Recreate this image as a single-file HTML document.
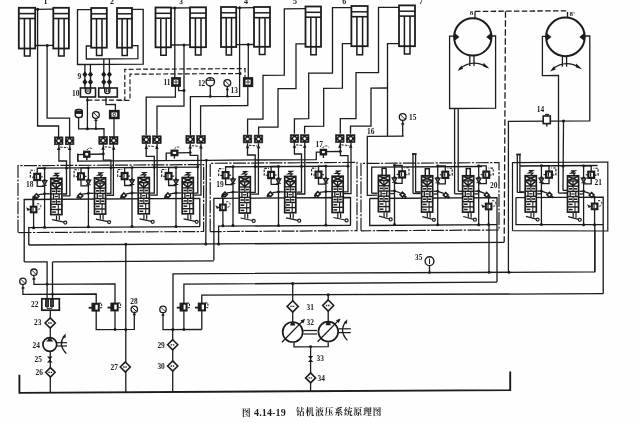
<!DOCTYPE html>
<html><head><meta charset="utf-8"><title>钻机液压系统原理图</title>
<style>
html,body{margin:0;padding:0;background:#fff;}
body{width:640px;height:423px;overflow:hidden;}
svg{display:block;}
</style></head><body>
<svg width="640" height="423" viewBox="0 0 640 423">
<defs><filter id="soft" x="-2%" y="-2%" width="104%" height="104%"><feGaussianBlur stdDeviation="0.45"/></filter></defs>
<rect x="0" y="0" width="640" height="423" fill="#fefefe"/>
<g fill="none" stroke="#1c1c1c" stroke-linecap="butt" stroke-linejoin="miter" filter="url(#soft)">
<rect x="18.8" y="7.8" width="16.4" height="40.7" stroke-width="1.80" fill="none" rx="0.0"/>
<path d="M18.8,13.6 L35.2,13.6" stroke-width="1.50"/>
<path d="M18.8,18.5 L35.2,18.5" stroke-width="1.60"/>
<path d="M24.4,18.5 L24.4,56.0 L30.1,56.0 L30.1,18.5" stroke-width="1.50"/>
<rect x="53.3" y="7.8" width="15.6" height="40.7" stroke-width="1.80" fill="none" rx="0.0"/>
<path d="M53.3,13.6 L68.9,13.6" stroke-width="1.50"/>
<path d="M53.3,18.5 L68.9,18.5" stroke-width="1.60"/>
<path d="M58.6,18.5 L58.6,56.0 L64.1,56.0 L64.1,18.5" stroke-width="1.50"/>
<rect x="91.2" y="8.0" width="15.6" height="39.7" stroke-width="1.80" fill="none" rx="0.0"/>
<path d="M91.2,13.8 L106.8,13.8" stroke-width="1.50"/>
<path d="M91.2,18.7 L106.8,18.7" stroke-width="1.60"/>
<path d="M96.5,18.7 L96.5,55.5 L102.0,55.5 L102.0,18.7" stroke-width="1.50"/>
<rect x="117.0" y="8.0" width="15.0" height="39.7" stroke-width="1.80" fill="none" rx="0.0"/>
<path d="M117.0,13.8 L132.0,13.8" stroke-width="1.50"/>
<path d="M117.0,18.7 L132.0,18.7" stroke-width="1.60"/>
<path d="M122.1,18.7 L122.1,55.5 L127.3,55.5 L127.3,18.7" stroke-width="1.50"/>
<rect x="155.5" y="7.5" width="15.5" height="39.8" stroke-width="1.80" fill="none" rx="0.0"/>
<path d="M155.5,13.3 L171.0,13.3" stroke-width="1.50"/>
<path d="M155.5,18.2 L171.0,18.2" stroke-width="1.60"/>
<path d="M160.8,18.2 L160.8,55.2 L166.2,55.2 L166.2,18.2" stroke-width="1.50"/>
<rect x="190.0" y="7.3" width="16.0" height="39.9" stroke-width="1.80" fill="none" rx="0.0"/>
<path d="M190.0,13.1 L206.0,13.1" stroke-width="1.50"/>
<path d="M190.0,18.0 L206.0,18.0" stroke-width="1.60"/>
<path d="M195.4,18.0 L195.4,55.0 L201.0,55.0 L201.0,18.0" stroke-width="1.50"/>
<rect x="221.0" y="7.0" width="15.2" height="40.0" stroke-width="1.80" fill="none" rx="0.0"/>
<path d="M221.0,12.8 L236.2,12.8" stroke-width="1.50"/>
<path d="M221.0,17.7 L236.2,17.7" stroke-width="1.60"/>
<path d="M226.2,17.7 L226.2,55.0 L231.5,55.0 L231.5,17.7" stroke-width="1.50"/>
<rect x="254.0" y="7.0" width="16.0" height="39.8" stroke-width="1.80" fill="none" rx="0.0"/>
<path d="M254.0,12.8 L270.0,12.8" stroke-width="1.50"/>
<path d="M254.0,17.7 L270.0,17.7" stroke-width="1.60"/>
<path d="M259.4,17.7 L259.4,54.6 L265.0,54.6 L265.0,17.7" stroke-width="1.50"/>
<rect x="305.5" y="6.5" width="15.5" height="40.3" stroke-width="1.80" fill="none" rx="0.0"/>
<path d="M305.5,12.3 L321.0,12.3" stroke-width="1.50"/>
<path d="M305.5,17.2 L321.0,17.2" stroke-width="1.60"/>
<path d="M310.8,17.2 L310.8,54.8 L316.2,54.8 L316.2,17.2" stroke-width="1.50"/>
<rect x="351.4" y="6.0" width="16.3" height="40.2" stroke-width="1.80" fill="none" rx="0.0"/>
<path d="M351.4,11.8 L367.7,11.8" stroke-width="1.50"/>
<path d="M351.4,16.7 L367.7,16.7" stroke-width="1.60"/>
<path d="M356.9,16.7 L356.9,54.7 L362.6,54.7 L362.6,16.7" stroke-width="1.50"/>
<rect x="399.0" y="5.4" width="16.0" height="40.8" stroke-width="1.80" fill="none" rx="0.0"/>
<path d="M399.0,11.2 L415.0,11.2" stroke-width="1.50"/>
<path d="M399.0,16.1 L415.0,16.1" stroke-width="1.60"/>
<path d="M404.4,16.1 L404.4,54.0 L410.0,54.0 L410.0,16.1" stroke-width="1.50"/>
<text x="45.5" y="4.2" font-size="8.0" text-anchor="middle" font-weight="bold" font-family="&quot;Liberation Serif&quot;, serif" stroke="none" fill="#1c1c1c">1</text>
<text x="112.0" y="4.2" font-size="8.0" text-anchor="middle" font-weight="bold" font-family="&quot;Liberation Serif&quot;, serif" stroke="none" fill="#1c1c1c">2</text>
<text x="181.0" y="4.2" font-size="8.0" text-anchor="middle" font-weight="bold" font-family="&quot;Liberation Serif&quot;, serif" stroke="none" fill="#1c1c1c">3</text>
<text x="246.0" y="4.2" font-size="8.0" text-anchor="middle" font-weight="bold" font-family="&quot;Liberation Serif&quot;, serif" stroke="none" fill="#1c1c1c">4</text>
<text x="295.0" y="4.2" font-size="8.0" text-anchor="middle" font-weight="bold" font-family="&quot;Liberation Serif&quot;, serif" stroke="none" fill="#1c1c1c">5</text>
<text x="344.3" y="4.2" font-size="8.0" text-anchor="middle" font-weight="bold" font-family="&quot;Liberation Serif&quot;, serif" stroke="none" fill="#1c1c1c">6</text>
<text x="421.0" y="4.2" font-size="8.0" text-anchor="middle" font-weight="bold" font-family="&quot;Liberation Serif&quot;, serif" stroke="none" fill="#1c1c1c">7</text>
<text x="473.3" y="15.4" font-size="7.0" text-anchor="end" font-weight="bold" font-family="&quot;Liberation Serif&quot;, serif" stroke="none" fill="#1c1c1c">8</text>
<text x="569.6" y="15.6" font-size="7.0" text-anchor="start" font-weight="bold" font-family="&quot;Liberation Serif&quot;, serif" stroke="none" fill="#1c1c1c">8'</text>
<path d="M35.2,9.3 L53.3,9.2" stroke-width="1.30"/>
<path d="M35.2,45.5 L53.3,45.4" stroke-width="1.30"/>
<circle cx="37.7" cy="9.3" r="1.5" fill="#1c1c1c" stroke="none"/>
<circle cx="47.2" cy="45.4" r="1.5" fill="#1c1c1c" stroke="none"/>
<path d="M37.6,9.3 L37.6,126.0 L58.6,125.9 L58.6,137.0" stroke-width="1.30"/>
<path d="M47.1,45.4 L47.1,118.2 L69.6,118.1 L69.6,137.0" stroke-width="1.30"/>
<path d="M91.2,9.6 L77.5,9.7 L77.5,64.5 L143.2,64.1 L143.2,9.3 L132.0,9.4" stroke-width="1.30"/>
<path d="M91.2,46.0 L86.3,46.0 L86.3,59.0 L137.9,58.7 L137.9,45.7 L132.0,45.7" stroke-width="1.30"/>
<path d="M84.9,64.5 L84.9,73.0" stroke-width="1.30"/>
<path d="M90.4,64.4 L90.4,73.0" stroke-width="1.30"/>
<path d="M103.8,58.9 L103.8,73.0" stroke-width="1.30"/>
<path d="M109.4,58.9 L109.4,73.0" stroke-width="1.30"/>
<polygon points="84.9,71.3 87.5,74.6 84.9,77.6 82.3,74.6" fill="#1c1c1c" stroke-width="0.0"/>
<polygon points="84.9,78.8 87.5,82.0 84.9,85.2 82.3,82.0" fill="#1c1c1c" stroke-width="0.0"/>
<path d="M84.9,73.0 L84.9,88.3" stroke-width="1.30"/>
<polygon points="90.5,71.3 93.1,74.6 90.5,77.6 87.9,74.6" fill="#1c1c1c" stroke-width="0.0"/>
<polygon points="90.5,78.8 93.1,82.0 90.5,85.2 87.9,82.0" fill="#1c1c1c" stroke-width="0.0"/>
<path d="M90.5,73.0 L90.5,88.3" stroke-width="1.30"/>
<polygon points="103.8,71.3 106.4,74.6 103.8,77.6 101.2,74.6" fill="#1c1c1c" stroke-width="0.0"/>
<polygon points="103.8,78.8 106.4,82.0 103.8,85.2 101.2,82.0" fill="#1c1c1c" stroke-width="0.0"/>
<path d="M103.8,73.0 L103.8,88.3" stroke-width="1.30"/>
<polygon points="109.4,71.3 112.0,74.6 109.4,77.6 106.8,74.6" fill="#1c1c1c" stroke-width="0.0"/>
<polygon points="109.4,78.8 112.0,82.0 109.4,85.2 106.8,82.0" fill="#1c1c1c" stroke-width="0.0"/>
<path d="M109.4,73.0 L109.4,88.3" stroke-width="1.30"/>
<text x="81.3" y="78.5" font-size="7.4" text-anchor="end" font-weight="bold" font-family="&quot;Liberation Serif&quot;, serif" stroke="none" fill="#1c1c1c">9</text>
<text x="79.5" y="95.5" font-size="7.4" text-anchor="end" font-weight="bold" font-family="&quot;Liberation Serif&quot;, serif" stroke="none" fill="#1c1c1c">10</text>
<rect x="80.4" y="88.0" width="15.1" height="9.0" stroke-width="1.60" fill="none" rx="0.0"/>
<rect x="98.7" y="88.0" width="18.6" height="9.0" stroke-width="1.60" fill="none" rx="0.0"/>
<path d="M85.4,88 v3 a2.6,2.6 0 0 0 5.2,0 v-3" stroke-width="1.4" fill="none"/>
<path d="M87.0,88.0 L87.0,92.0" stroke-width="1.00"/>
<path d="M89.0,88.0 L89.0,92.0" stroke-width="1.00"/>
<path d="M104.7,88 v3 a2.6,2.6 0 0 0 5.2,0 v-3" stroke-width="1.4" fill="none"/>
<path d="M106.3,88.0 L106.3,92.0" stroke-width="1.00"/>
<path d="M108.3,88.0 L108.3,92.0" stroke-width="1.00"/>
<path d="M87.4,100.2 L124.8,100.0 L124.8,69.3 L245.0,68.6 L245.0,78.0" stroke-width="1.20" stroke-dasharray="5,2.2"/>
<path d="M117.3,100.4 L130.0,100.3 L130.0,74.2 L240.0,73.5" stroke-width="1.20" stroke-dasharray="5,2.2"/>
<circle cx="240.0" cy="73.6" r="1.5" fill="#1c1c1c" stroke="none"/>
<path d="M87.4,97.0 L87.4,128.8" stroke-width="1.30"/>
<circle cx="87.4" cy="100.2" r="1.3" fill="#1c1c1c" stroke="none"/>
<circle cx="87.4" cy="128.8" r="1.5" fill="#1c1c1c" stroke="none"/>
<path d="M106.0,97.0 L106.0,104.6 L115.4,104.5 L115.4,110.8" stroke-width="1.30"/>
<rect x="110.2" y="111.2" width="8.2" height="6.7" stroke-width="2.60" fill="none" rx="0.0"/>
<circle cx="114.3" cy="114.5" r="1.3" stroke-width="0.90" fill="none"/>
<path d="M114.0,118.3 L114.0,137.0" stroke-width="1.30"/>
<rect x="75.3" y="109.4" width="7.0" height="8.0" stroke-width="1.50" fill="none" rx="2.5"/>
<rect x="75.3" y="111.0" width="7.0" height="2.6" stroke-width="0.80" fill="#1c1c1c" rx="0.0"/>
<path d="M78.6,117.4 L78.6,128.9 L104.0,128.7 L104.0,137.0" stroke-width="1.30"/>
<circle cx="95.9" cy="115.0" r="3.4" stroke-width="1.30" fill="none"/>
<path d="M93.9,113.0 L97.9,117.0" stroke-width="1.00"/>
<path d="M95.9,118.4 L95.9,128.8" stroke-width="1.30"/>
<path d="M94.4,120.4 L97.4,120.4" stroke-width="1.30"/>
<circle cx="95.9" cy="128.8" r="1.3" fill="#1c1c1c" stroke="none"/>
<path d="M171.0,8.0 L190.0,7.9" stroke-width="1.30"/>
<path d="M171.0,45.0 L190.0,44.9" stroke-width="1.30"/>
<circle cx="174.8" cy="8.0" r="1.5" fill="#1c1c1c" stroke="none"/>
<circle cx="184.0" cy="44.9" r="1.5" fill="#1c1c1c" stroke="none"/>
<path d="M174.8,8.0 L174.8,78.0" stroke-width="1.30"/>
<path d="M175.4,86.0 L175.4,97.0 L146.2,97.2 L146.2,135.3" stroke-width="1.30"/>
<path d="M184.0,44.9 L184.0,106.0 L157.0,106.2 L157.0,135.3" stroke-width="1.30"/>
<rect x="172.4" y="78.4" width="7.2" height="7.1" stroke-width="2.60" fill="none" rx="0.0"/>
<circle cx="176.0" cy="82.0" r="1.2" stroke-width="0.90" fill="none"/>
<path d="M178.6,86.0 L178.6,90.7 L184.0,90.7" stroke-width="1.30"/>
<circle cx="184.0" cy="90.6" r="1.5" fill="#1c1c1c" stroke="none"/>
<text x="170.5" y="85.0" font-size="7.4" text-anchor="end" font-weight="bold" font-family="&quot;Liberation Serif&quot;, serif" stroke="none" fill="#1c1c1c">11</text>
<path d="M236.2,7.8 L254.0,7.7" stroke-width="1.30"/>
<path d="M236.2,44.6 L254.0,44.5" stroke-width="1.30"/>
<circle cx="239.6" cy="7.8" r="1.5" fill="#1c1c1c" stroke="none"/>
<circle cx="248.3" cy="44.5" r="1.5" fill="#1c1c1c" stroke="none"/>
<path d="M239.6,7.8 L239.6,96.3 L190.4,96.6 L190.4,135.0" stroke-width="1.30"/>
<path d="M248.3,44.5 L248.3,78.0" stroke-width="1.30"/>
<rect x="244.2" y="78.4" width="7.7" height="7.4" stroke-width="2.60" fill="none" rx="0.0"/>
<circle cx="248.0" cy="82.0" r="1.2" stroke-width="0.90" fill="none"/>
<path d="M247.8,86.2 L247.8,105.5 L200.6,105.8 L200.6,135.0" stroke-width="1.30"/>
<circle cx="210.3" cy="81.8" r="4.2" stroke-width="1.40" fill="none"/>
<path d="M206.1,80.3 L214.5,80.3" stroke-width="1.00"/>
<polygon points="209.0,79.8 211.6,79.8 210.3,77.6" fill="#1c1c1c" stroke-width="0.0"/>
<path d="M210.3,86.0 L210.3,96.5" stroke-width="1.30"/>
<circle cx="210.3" cy="96.4" r="1.3" fill="#1c1c1c" stroke="none"/>
<circle cx="227.3" cy="83.0" r="3.4" stroke-width="1.30" fill="none"/>
<path d="M225.3,81.0 L229.3,85.0" stroke-width="1.00"/>
<path d="M227.3,86.4 L227.3,96.3" stroke-width="1.30"/>
<circle cx="227.3" cy="96.3" r="1.3" fill="#1c1c1c" stroke="none"/>
<path d="M226.0,89.5 L228.6,89.5" stroke-width="1.60"/>
<text x="205.3" y="86.0" font-size="7.4" text-anchor="end" font-weight="bold" font-family="&quot;Liberation Serif&quot;, serif" stroke="none" fill="#1c1c1c">12</text>
<text x="230.5" y="92.5" font-size="7.4" text-anchor="start" font-weight="bold" font-family="&quot;Liberation Serif&quot;, serif" stroke="none" fill="#1c1c1c">13</text>
<path d="M306.0,8.7 L284.3,8.8 L284.3,75.2 L263.0,75.3 L263.0,119.0 L247.6,119.1 L247.6,134.7" stroke-width="1.30"/>
<path d="M306.0,43.8 L296.0,43.9 L296.0,88.6 L278.0,88.7 L278.0,127.0 L258.6,127.1 L258.6,134.7" stroke-width="1.30"/>
<path d="M351.3,7.6 L332.5,7.7 L332.5,73.0 L308.7,73.1 L308.7,118.7 L294.4,118.8 L294.4,133.8" stroke-width="1.30"/>
<path d="M351.3,43.6 L342.4,43.7 L342.4,88.2 L323.7,88.3 L323.7,126.2 L304.6,126.3 L304.6,133.8" stroke-width="1.30"/>
<path d="M399.0,7.3 L378.5,7.4 L378.5,72.6 L356.0,72.7 L356.0,118.5 L340.3,118.6 L340.3,133.7" stroke-width="1.30"/>
<path d="M399.0,43.6 L387.5,43.7 L387.5,136.2" stroke-width="1.30"/>
<path d="M387.5,88.0 L371.0,88.1 L371.0,126.0 L350.5,126.1 L350.5,133.7" stroke-width="1.30"/>
<path d="M403.7,136.1 L367.3,136.3 L367.3,195.3 L377.0,195.2" stroke-width="1.30"/>
<circle cx="402.7" cy="117.0" r="3.4" stroke-width="1.30" fill="none"/>
<path d="M400.7,115.0 L404.7,119.0" stroke-width="1.00"/>
<path d="M402.7,120.4 L402.7,136.1" stroke-width="1.30"/>
<path d="M401.3,124.0 L404.1,124.0" stroke-width="1.60"/>
<text x="409.0" y="120.0" font-size="7.4" text-anchor="start" font-weight="bold" font-family="&quot;Liberation Serif&quot;, serif" stroke="none" fill="#1c1c1c">15</text>
<text x="367.0" y="133.5" font-size="7.4" text-anchor="start" font-weight="bold" font-family="&quot;Liberation Serif&quot;, serif" stroke="none" fill="#1c1c1c">16</text>
<text x="315.5" y="147.0" font-size="7.4" text-anchor="start" font-weight="bold" font-family="&quot;Liberation Serif&quot;, serif" stroke="none" fill="#1c1c1c">17</text>
<rect x="54.4" y="136.9" width="8.6" height="7.8" fill="#1c1c1c" stroke-width="0.6"/>
<circle cx="58.7" cy="140.8" r="1.35" fill="#fff" stroke="none"/>
<circle cx="56.4" cy="138.7" r="0.75" fill="#aaa" stroke="none"/>
<circle cx="56.4" cy="142.9" r="0.75" fill="#aaa" stroke="none"/>
<circle cx="61.0" cy="138.7" r="0.75" fill="#aaa" stroke="none"/>
<circle cx="61.0" cy="142.9" r="0.75" fill="#aaa" stroke="none"/>
<polygon points="56.9,150.0 60.5,150.0 58.7,146.4" fill="#1c1c1c" stroke-width="0.0"/>
<rect x="65.3" y="136.9" width="8.6" height="7.8" fill="#1c1c1c" stroke-width="0.6"/>
<circle cx="69.6" cy="140.8" r="1.35" fill="#fff" stroke="none"/>
<circle cx="67.3" cy="138.7" r="0.75" fill="#aaa" stroke="none"/>
<circle cx="67.3" cy="142.9" r="0.75" fill="#aaa" stroke="none"/>
<circle cx="71.9" cy="138.7" r="0.75" fill="#aaa" stroke="none"/>
<circle cx="71.9" cy="142.9" r="0.75" fill="#aaa" stroke="none"/>
<polygon points="67.8,150.0 71.4,150.0 69.6,146.4" fill="#1c1c1c" stroke-width="0.0"/>
<path d="M60.2,147.1 L68.1,147.7" stroke-width="1.00" stroke-dasharray="2.4,1.2"/>
<rect x="98.8" y="136.6" width="8.6" height="7.8" fill="#1c1c1c" stroke-width="0.6"/>
<circle cx="103.1" cy="140.5" r="1.35" fill="#fff" stroke="none"/>
<circle cx="100.8" cy="138.4" r="0.75" fill="#aaa" stroke="none"/>
<circle cx="100.8" cy="142.6" r="0.75" fill="#aaa" stroke="none"/>
<circle cx="105.4" cy="138.4" r="0.75" fill="#aaa" stroke="none"/>
<circle cx="105.4" cy="142.6" r="0.75" fill="#aaa" stroke="none"/>
<polygon points="101.3,149.7 104.9,149.7 103.1,146.1" fill="#1c1c1c" stroke-width="0.0"/>
<rect x="109.4" y="136.6" width="8.6" height="7.8" fill="#1c1c1c" stroke-width="0.6"/>
<circle cx="113.7" cy="140.5" r="1.35" fill="#fff" stroke="none"/>
<circle cx="111.4" cy="138.4" r="0.75" fill="#aaa" stroke="none"/>
<circle cx="111.4" cy="142.6" r="0.75" fill="#aaa" stroke="none"/>
<circle cx="116.0" cy="138.4" r="0.75" fill="#aaa" stroke="none"/>
<circle cx="116.0" cy="142.6" r="0.75" fill="#aaa" stroke="none"/>
<polygon points="111.9,149.7 115.5,149.7 113.7,146.1" fill="#1c1c1c" stroke-width="0.0"/>
<path d="M104.6,146.8 L112.2,147.4" stroke-width="1.00" stroke-dasharray="2.4,1.2"/>
<rect x="142.0" y="135.8" width="8.6" height="7.8" fill="#1c1c1c" stroke-width="0.6"/>
<circle cx="146.3" cy="139.7" r="1.35" fill="#fff" stroke="none"/>
<circle cx="144.0" cy="137.6" r="0.75" fill="#aaa" stroke="none"/>
<circle cx="144.0" cy="141.8" r="0.75" fill="#aaa" stroke="none"/>
<circle cx="148.6" cy="137.6" r="0.75" fill="#aaa" stroke="none"/>
<circle cx="148.6" cy="141.8" r="0.75" fill="#aaa" stroke="none"/>
<polygon points="144.5,148.9 148.1,148.9 146.3,145.3" fill="#1c1c1c" stroke-width="0.0"/>
<rect x="152.6" y="135.8" width="8.6" height="7.8" fill="#1c1c1c" stroke-width="0.6"/>
<circle cx="156.9" cy="139.7" r="1.35" fill="#fff" stroke="none"/>
<circle cx="154.6" cy="137.6" r="0.75" fill="#aaa" stroke="none"/>
<circle cx="154.6" cy="141.8" r="0.75" fill="#aaa" stroke="none"/>
<circle cx="159.2" cy="137.6" r="0.75" fill="#aaa" stroke="none"/>
<circle cx="159.2" cy="141.8" r="0.75" fill="#aaa" stroke="none"/>
<polygon points="155.1,148.9 158.7,148.9 156.9,145.3" fill="#1c1c1c" stroke-width="0.0"/>
<path d="M147.8,146.0 L155.4,146.6" stroke-width="1.00" stroke-dasharray="2.4,1.2"/>
<rect x="185.9" y="135.5" width="8.6" height="7.8" fill="#1c1c1c" stroke-width="0.6"/>
<circle cx="190.2" cy="139.4" r="1.35" fill="#fff" stroke="none"/>
<circle cx="187.9" cy="137.3" r="0.75" fill="#aaa" stroke="none"/>
<circle cx="187.9" cy="141.5" r="0.75" fill="#aaa" stroke="none"/>
<circle cx="192.5" cy="137.3" r="0.75" fill="#aaa" stroke="none"/>
<circle cx="192.5" cy="141.5" r="0.75" fill="#aaa" stroke="none"/>
<polygon points="188.4,148.6 192.0,148.6 190.2,145.0" fill="#1c1c1c" stroke-width="0.0"/>
<rect x="196.7" y="135.5" width="8.6" height="7.8" fill="#1c1c1c" stroke-width="0.6"/>
<circle cx="201.0" cy="139.4" r="1.35" fill="#fff" stroke="none"/>
<circle cx="198.7" cy="137.3" r="0.75" fill="#aaa" stroke="none"/>
<circle cx="198.7" cy="141.5" r="0.75" fill="#aaa" stroke="none"/>
<circle cx="203.3" cy="137.3" r="0.75" fill="#aaa" stroke="none"/>
<circle cx="203.3" cy="141.5" r="0.75" fill="#aaa" stroke="none"/>
<polygon points="199.2,148.6 202.8,148.6 201.0,145.0" fill="#1c1c1c" stroke-width="0.0"/>
<path d="M191.7,145.7 L199.5,146.3" stroke-width="1.00" stroke-dasharray="2.4,1.2"/>
<rect x="243.2" y="135.1" width="8.6" height="7.8" fill="#1c1c1c" stroke-width="0.6"/>
<circle cx="247.5" cy="139.0" r="1.35" fill="#fff" stroke="none"/>
<circle cx="245.2" cy="136.9" r="0.75" fill="#aaa" stroke="none"/>
<circle cx="245.2" cy="141.1" r="0.75" fill="#aaa" stroke="none"/>
<circle cx="249.8" cy="136.9" r="0.75" fill="#aaa" stroke="none"/>
<circle cx="249.8" cy="141.1" r="0.75" fill="#aaa" stroke="none"/>
<polygon points="245.7,148.2 249.3,148.2 247.5,144.6" fill="#1c1c1c" stroke-width="0.0"/>
<rect x="254.2" y="135.1" width="8.6" height="7.8" fill="#1c1c1c" stroke-width="0.6"/>
<circle cx="258.5" cy="139.0" r="1.35" fill="#fff" stroke="none"/>
<circle cx="256.2" cy="136.9" r="0.75" fill="#aaa" stroke="none"/>
<circle cx="256.2" cy="141.1" r="0.75" fill="#aaa" stroke="none"/>
<circle cx="260.8" cy="136.9" r="0.75" fill="#aaa" stroke="none"/>
<circle cx="260.8" cy="141.1" r="0.75" fill="#aaa" stroke="none"/>
<polygon points="256.7,148.2 260.3,148.2 258.5,144.6" fill="#1c1c1c" stroke-width="0.0"/>
<path d="M249.0,145.3 L257.0,145.9" stroke-width="1.00" stroke-dasharray="2.4,1.2"/>
<rect x="290.2" y="134.7" width="8.6" height="7.8" fill="#1c1c1c" stroke-width="0.6"/>
<circle cx="294.5" cy="138.6" r="1.35" fill="#fff" stroke="none"/>
<circle cx="292.2" cy="136.5" r="0.75" fill="#aaa" stroke="none"/>
<circle cx="292.2" cy="140.7" r="0.75" fill="#aaa" stroke="none"/>
<circle cx="296.8" cy="136.5" r="0.75" fill="#aaa" stroke="none"/>
<circle cx="296.8" cy="140.7" r="0.75" fill="#aaa" stroke="none"/>
<polygon points="292.7,147.8 296.3,147.8 294.5,144.2" fill="#1c1c1c" stroke-width="0.0"/>
<rect x="300.4" y="134.7" width="8.6" height="7.8" fill="#1c1c1c" stroke-width="0.6"/>
<circle cx="304.7" cy="138.6" r="1.35" fill="#fff" stroke="none"/>
<circle cx="302.4" cy="136.5" r="0.75" fill="#aaa" stroke="none"/>
<circle cx="302.4" cy="140.7" r="0.75" fill="#aaa" stroke="none"/>
<circle cx="307.0" cy="136.5" r="0.75" fill="#aaa" stroke="none"/>
<circle cx="307.0" cy="140.7" r="0.75" fill="#aaa" stroke="none"/>
<polygon points="302.9,147.8 306.5,147.8 304.7,144.2" fill="#1c1c1c" stroke-width="0.0"/>
<path d="M296.0,144.9 L303.2,145.5" stroke-width="1.00" stroke-dasharray="2.4,1.2"/>
<rect x="335.5" y="134.7" width="8.6" height="7.8" fill="#1c1c1c" stroke-width="0.6"/>
<circle cx="339.8" cy="138.6" r="1.35" fill="#fff" stroke="none"/>
<circle cx="337.5" cy="136.5" r="0.75" fill="#aaa" stroke="none"/>
<circle cx="337.5" cy="140.7" r="0.75" fill="#aaa" stroke="none"/>
<circle cx="342.1" cy="136.5" r="0.75" fill="#aaa" stroke="none"/>
<circle cx="342.1" cy="140.7" r="0.75" fill="#aaa" stroke="none"/>
<polygon points="338.0,147.8 341.6,147.8 339.8,144.2" fill="#1c1c1c" stroke-width="0.0"/>
<rect x="346.4" y="134.7" width="8.6" height="7.8" fill="#1c1c1c" stroke-width="0.6"/>
<circle cx="350.7" cy="138.6" r="1.35" fill="#fff" stroke="none"/>
<circle cx="348.4" cy="136.5" r="0.75" fill="#aaa" stroke="none"/>
<circle cx="348.4" cy="140.7" r="0.75" fill="#aaa" stroke="none"/>
<circle cx="353.0" cy="136.5" r="0.75" fill="#aaa" stroke="none"/>
<circle cx="353.0" cy="140.7" r="0.75" fill="#aaa" stroke="none"/>
<polygon points="348.9,147.8 352.5,147.8 350.7,144.2" fill="#1c1c1c" stroke-width="0.0"/>
<path d="M341.3,144.9 L349.2,145.5" stroke-width="1.00" stroke-dasharray="2.4,1.2"/>
<circle cx="472.8" cy="36.9" r="18.7" stroke-width="2.00" fill="none"/>
<polygon points="454.4,32.7 454.4,41.1 459.4,36.9" fill="#1c1c1c" stroke-width="0.0"/>
<polygon points="491.2,32.7 491.2,41.1 486.2,36.9" fill="#1c1c1c" stroke-width="0.0"/>
<path d="M469.8,55.6 L469.8,66.1" stroke-width="1.30"/>
<path d="M474.0,55.6 L474.0,66.1" stroke-width="1.30"/>
<path d="M459.3,69.1 Q472.3,58.1 487.3,67.1" stroke-width="1.3" fill="none"/>
<polygon points="457.5,70.9 461.5,65.4 463.0,68.8" fill="#1c1c1c" stroke-width="0.0"/>
<polygon points="489.3,68.6 483.6,62.8 483.1,66.6" fill="#1c1c1c" stroke-width="0.0"/>
<circle cx="565.4" cy="36.9" r="19.3" stroke-width="2.00" fill="none"/>
<polygon points="546.4,32.7 546.4,41.1 551.4,36.9" fill="#1c1c1c" stroke-width="0.0"/>
<polygon points="584.4,32.7 584.4,41.1 579.4,36.9" fill="#1c1c1c" stroke-width="0.0"/>
<path d="M562.4,56.2 L562.4,66.7" stroke-width="1.30"/>
<path d="M566.6,56.2 L566.6,66.7" stroke-width="1.30"/>
<path d="M551.9,69.7 Q564.9,58.7 579.9,67.7" stroke-width="1.3" fill="none"/>
<polygon points="550.1,71.5 554.1,66.0 555.6,69.4" fill="#1c1c1c" stroke-width="0.0"/>
<polygon points="581.9,69.2 576.2,63.4 575.7,67.2" fill="#1c1c1c" stroke-width="0.0"/>
<path d="M454.2,36.2 L449.6,36.2 L449.6,108.5 L495.6,108.2 L495.6,36.0 L491.4,36.0" stroke-width="1.30"/>
<path d="M454.6,108.5 L454.6,193.8" stroke-width="1.30"/>
<path d="M458.2,108.5 L458.2,191.3" stroke-width="1.30"/>
<path d="M475.0,18.3 L475.0,11.4" stroke-width="1.30"/>
<path d="M475.0,11.4 L567.5,10.8 L567.5,17.8" stroke-width="1.30" stroke-dasharray="5.5,2.3"/>
<path d="M505.5,11.3 L504.2,242.3" stroke-width="1.30" stroke-dasharray="6.5,2.5"/>
<path d="M546.1,36.4 L542.4,36.4 L542.4,75.6 L558.5,75.5 L558.5,193.1" stroke-width="1.30"/>
<path d="M584.7,36.0 L589.8,36.0 L589.8,120.8 L508.4,121.3 L508.4,271.3" stroke-width="1.30"/>
<circle cx="563.5" cy="121.0" r="1.5" fill="#1c1c1c" stroke="none"/>
<path d="M563.5,121.0 L563.0,190.4" stroke-width="1.30"/>
<circle cx="563.1" cy="166.0" r="1.5" fill="#1c1c1c" stroke="none"/>
<rect x="543.2" y="116.0" width="7.1" height="7.6" stroke-width="1.60" fill="#fff" rx="0.0"/>
<path d="M545.0,114.5 L549.0,114.5" stroke-width="1.20"/>
<path d="M546.8,123.6 L546.8,126.5" stroke-width="1.40"/>
<text x="540.5" y="111.8" font-size="7.4" text-anchor="middle" font-weight="bold" font-family="&quot;Liberation Serif&quot;, serif" stroke="none" fill="#1c1c1c">14</text>
<path d="M18.0,232.5 L18.0,165.7 L203.6,164.6 L203.6,231.5 L18.0,232.6" stroke-width="1.20" stroke-dasharray="13,1.5,2.2,1.5"/>
<path d="M37.4,168.2 L197.8,167.2" stroke-width="1.30"/>
<path d="M24.2,261.9 L24.2,199.5 L199.8,198.4 L199.8,226.5" stroke-width="1.30"/>
<path d="M200.0,226.6 L28.8,227.6 L28.8,245.0" stroke-width="1.30"/>
<path d="M77.8,153.6 L77.8,161.2 L206.4,160.4" stroke-width="1.30"/>
<path d="M44.6,168.4 L44.6,227.3" stroke-width="1.30"/>
<circle cx="44.6" cy="168.4" r="1.4" fill="#1c1c1c" stroke="none"/>
<circle cx="44.6" cy="227.3" r="1.5" fill="#1c1c1c" stroke="none"/>
<circle cx="44.6" cy="193.8" r="1.4" fill="#1c1c1c" stroke="none"/>
<path d="M44.6,168.4 L37.2,168.4 L37.2,173.9" stroke-width="1.30"/>
<path d="M37.2,179.9 L37.2,186.3 L44.6,186.3" stroke-width="1.30"/>
<rect x="34.3" y="173.8" width="5.8" height="6.2" stroke-width="2.20" fill="#fff" rx="0.0"/>
<path d="M36.6,174.9 L36.6,178.9" stroke-width="1.20"/>
<path d="M40.1,176.9 L42.7,176.9" stroke-width="1.10"/>
<path d="M34.3,177.2 L30.3,177.2 L30.3,170.3 L34.9,170.3" stroke-width="1.10" stroke-dasharray="2.4,1.3"/>
<polygon points="42.2,180.7 47.0,180.7 44.6,185.1" fill="#777" stroke-width="1.2"/>
<path d="M42.3,185.3 L46.9,185.3" stroke-width="1.00"/>
<circle cx="44.6" cy="180.1" r="1.2" fill="#1c1c1c" stroke="none"/>
<polygon points="36.5,193.8 38.9,196.2 36.5,198.6 34.1,196.2" fill="#fff" stroke-width="1.6"/>
<path d="M38.5,194.6 L44.6,193.8" stroke-width="1.30"/>
<circle cx="33.9" cy="198.0" r="1.3" fill="#1c1c1c" stroke="none"/>
<path d="M44.6,193.8 L49.9,193.8" stroke-width="1.30"/>
<rect x="50.8" y="178.3" width="11.1" height="36.3" stroke-width="1.70" fill="#fff" rx="0.0"/>
<path d="M50.8,183.5 L61.9,183.5" stroke-width="1.40"/>
<path d="M50.8,188.7 L61.9,188.7" stroke-width="1.40"/>
<path d="M50.8,193.9 L61.9,193.9" stroke-width="1.40"/>
<path d="M50.8,199.1 L61.9,199.1" stroke-width="1.40"/>
<path d="M50.8,204.3 L61.9,204.3" stroke-width="1.40"/>
<path d="M50.8,209.5 L61.9,209.5" stroke-width="1.40"/>
<path d="M51.5,178.9 L61.1,183.1" stroke-width="1.60"/>
<path d="M61.1,178.9 L51.5,183.1" stroke-width="1.60"/>
<path d="M51.5,184.1 L56.3,188.2 L61.1,184.1" stroke-width="1.60"/>
<path d="M56.3,183.5 L56.3,188.7" stroke-width="1.30"/>
<path d="M52.1,191.3 L55.5,191.3" stroke-width="1.60"/>
<path d="M57.3,191.3 L60.5,191.3" stroke-width="1.60"/>
<path d="M56.4,188.7 L56.4,193.9" stroke-width="1.10"/>
<path d="M53.5,193.9 L53.5,199.1" stroke-width="1.30"/>
<path d="M59.1,193.9 L59.1,199.1" stroke-width="1.30"/>
<path d="M54.7,196.5 L57.9,196.5" stroke-width="1.30"/>
<path d="M52.1,201.7 L55.5,201.7" stroke-width="1.60"/>
<path d="M57.3,201.7 L60.5,201.7" stroke-width="1.60"/>
<path d="M56.4,199.1 L56.4,204.3" stroke-width="1.10"/>
<path d="M52.1,206.9 L55.9,206.9" stroke-width="1.50"/>
<path d="M58.3,204.3 L58.3,209.5" stroke-width="1.10"/>
<path d="M52.1,212.1 L55.9,212.1" stroke-width="1.50"/>
<path d="M58.3,209.5 L58.3,214.7" stroke-width="1.10"/>
<path d="M54.2,173.3 L58.4,173.3 L54.2,175.7 L58.4,175.7 L56.3,178.1" stroke-width="1.20"/>
<path d="M56.5,215.5 L56.5,220.1" stroke-width="1.20"/>
<path d="M59.3,215.5 L59.3,220.3" stroke-width="1.20"/>
<path d="M52.1,219.7 L64.1,222.2" stroke-width="1.20"/>
<circle cx="65.3" cy="222.6" r="1.5" stroke-width="1.20" fill="#fff"/>
<path d="M88.4,167.9 L88.4,226.8" stroke-width="1.30"/>
<circle cx="88.4" cy="167.9" r="1.4" fill="#1c1c1c" stroke="none"/>
<circle cx="88.4" cy="226.8" r="1.5" fill="#1c1c1c" stroke="none"/>
<circle cx="88.4" cy="193.3" r="1.4" fill="#1c1c1c" stroke="none"/>
<path d="M88.4,167.9 L81.0,167.9 L81.0,173.4" stroke-width="1.30"/>
<path d="M81.0,179.4 L81.0,185.8 L88.4,185.8" stroke-width="1.30"/>
<rect x="78.1" y="173.3" width="5.8" height="6.2" stroke-width="2.20" fill="#fff" rx="0.0"/>
<path d="M80.4,174.4 L80.4,178.4" stroke-width="1.20"/>
<path d="M83.9,176.4 L86.5,176.4" stroke-width="1.10"/>
<path d="M78.1,176.7 L74.1,176.7 L74.1,169.8 L78.7,169.8" stroke-width="1.10" stroke-dasharray="2.4,1.3"/>
<polygon points="86.0,180.2 90.8,180.2 88.4,184.6" fill="#777" stroke-width="1.2"/>
<path d="M86.1,184.8 L90.7,184.8" stroke-width="1.00"/>
<circle cx="88.4" cy="179.6" r="1.2" fill="#1c1c1c" stroke="none"/>
<polygon points="80.3,193.3 82.7,195.7 80.3,198.1 77.9,195.7" fill="#fff" stroke-width="1.6"/>
<path d="M82.3,194.1 L88.4,193.3" stroke-width="1.30"/>
<circle cx="77.7" cy="197.5" r="1.3" fill="#1c1c1c" stroke="none"/>
<path d="M88.4,193.3 L93.7,193.3" stroke-width="1.30"/>
<rect x="94.5" y="177.8" width="11.1" height="36.3" stroke-width="1.70" fill="#fff" rx="0.0"/>
<path d="M94.5,183.0 L105.7,183.0" stroke-width="1.40"/>
<path d="M94.5,188.2 L105.7,188.2" stroke-width="1.40"/>
<path d="M94.5,193.4 L105.7,193.4" stroke-width="1.40"/>
<path d="M94.5,198.6 L105.7,198.6" stroke-width="1.40"/>
<path d="M94.5,203.8 L105.7,203.8" stroke-width="1.40"/>
<path d="M94.5,209.0 L105.7,209.0" stroke-width="1.40"/>
<path d="M95.3,178.4 L104.9,182.6" stroke-width="1.60"/>
<path d="M104.9,178.4 L95.3,182.6" stroke-width="1.60"/>
<path d="M95.3,183.6 L100.1,187.7 L104.9,183.6" stroke-width="1.60"/>
<path d="M100.1,183.0 L100.1,188.2" stroke-width="1.30"/>
<path d="M95.9,190.8 L99.3,190.8" stroke-width="1.60"/>
<path d="M101.1,190.8 L104.3,190.8" stroke-width="1.60"/>
<path d="M100.2,188.2 L100.2,193.4" stroke-width="1.10"/>
<path d="M97.3,193.4 L97.3,198.6" stroke-width="1.30"/>
<path d="M102.9,193.4 L102.9,198.6" stroke-width="1.30"/>
<path d="M98.5,196.0 L101.7,196.0" stroke-width="1.30"/>
<path d="M95.9,201.2 L99.3,201.2" stroke-width="1.60"/>
<path d="M101.1,201.2 L104.3,201.2" stroke-width="1.60"/>
<path d="M100.2,198.6 L100.2,203.8" stroke-width="1.10"/>
<path d="M95.9,206.4 L99.7,206.4" stroke-width="1.50"/>
<path d="M102.1,203.8 L102.1,209.0" stroke-width="1.10"/>
<path d="M95.9,211.6 L99.7,211.6" stroke-width="1.50"/>
<path d="M102.1,209.0 L102.1,214.2" stroke-width="1.10"/>
<path d="M98.0,172.8 L102.2,172.8 L98.0,175.2 L102.2,175.2 L100.1,177.6" stroke-width="1.20"/>
<path d="M100.3,215.0 L100.3,219.6" stroke-width="1.20"/>
<path d="M103.1,215.0 L103.1,219.8" stroke-width="1.20"/>
<path d="M95.9,219.2 L107.9,221.7" stroke-width="1.20"/>
<circle cx="109.1" cy="222.1" r="1.5" stroke-width="1.20" fill="#fff"/>
<path d="M132.0,167.6 L132.0,226.5" stroke-width="1.30"/>
<circle cx="132.0" cy="167.6" r="1.4" fill="#1c1c1c" stroke="none"/>
<circle cx="132.0" cy="226.5" r="1.5" fill="#1c1c1c" stroke="none"/>
<circle cx="132.0" cy="193.0" r="1.4" fill="#1c1c1c" stroke="none"/>
<path d="M132.0,167.6 L124.6,167.6 L124.6,173.1" stroke-width="1.30"/>
<path d="M124.6,179.1 L124.6,185.5 L132.0,185.5" stroke-width="1.30"/>
<rect x="121.7" y="173.0" width="5.8" height="6.2" stroke-width="2.20" fill="#fff" rx="0.0"/>
<path d="M124.0,174.1 L124.0,178.1" stroke-width="1.20"/>
<path d="M127.5,176.1 L130.1,176.1" stroke-width="1.10"/>
<path d="M121.7,176.4 L117.7,176.4 L117.7,169.5 L122.3,169.5" stroke-width="1.10" stroke-dasharray="2.4,1.3"/>
<polygon points="129.6,179.9 134.4,179.9 132.0,184.3" fill="#777" stroke-width="1.2"/>
<path d="M129.7,184.5 L134.3,184.5" stroke-width="1.00"/>
<circle cx="132.0" cy="179.3" r="1.2" fill="#1c1c1c" stroke="none"/>
<polygon points="123.9,193.0 126.3,195.4 123.9,197.8 121.5,195.4" fill="#fff" stroke-width="1.6"/>
<path d="M125.9,193.8 L132.0,193.0" stroke-width="1.30"/>
<circle cx="121.3" cy="197.2" r="1.3" fill="#1c1c1c" stroke="none"/>
<path d="M132.0,193.0 L137.3,193.0" stroke-width="1.30"/>
<rect x="138.2" y="177.5" width="11.1" height="36.3" stroke-width="1.70" fill="#fff" rx="0.0"/>
<path d="M138.2,182.7 L149.3,182.7" stroke-width="1.40"/>
<path d="M138.2,187.9 L149.3,187.9" stroke-width="1.40"/>
<path d="M138.2,193.1 L149.3,193.1" stroke-width="1.40"/>
<path d="M138.2,198.3 L149.3,198.3" stroke-width="1.40"/>
<path d="M138.2,203.5 L149.3,203.5" stroke-width="1.40"/>
<path d="M138.2,208.7 L149.3,208.7" stroke-width="1.40"/>
<path d="M139.0,178.1 L148.5,182.3" stroke-width="1.60"/>
<path d="M148.5,178.1 L139.0,182.3" stroke-width="1.60"/>
<path d="M139.0,183.3 L143.7,187.4 L148.5,183.3" stroke-width="1.60"/>
<path d="M143.7,182.7 L143.7,187.9" stroke-width="1.30"/>
<path d="M139.5,190.5 L142.9,190.5" stroke-width="1.60"/>
<path d="M144.7,190.5 L147.9,190.5" stroke-width="1.60"/>
<path d="M143.8,187.9 L143.8,193.1" stroke-width="1.10"/>
<path d="M140.9,193.1 L140.9,198.3" stroke-width="1.30"/>
<path d="M146.5,193.1 L146.5,198.3" stroke-width="1.30"/>
<path d="M142.1,195.7 L145.3,195.7" stroke-width="1.30"/>
<path d="M139.5,200.9 L142.9,200.9" stroke-width="1.60"/>
<path d="M144.7,200.9 L147.9,200.9" stroke-width="1.60"/>
<path d="M143.8,198.3 L143.8,203.5" stroke-width="1.10"/>
<path d="M139.5,206.1 L143.3,206.1" stroke-width="1.50"/>
<path d="M145.7,203.5 L145.7,208.7" stroke-width="1.10"/>
<path d="M139.5,211.3 L143.3,211.3" stroke-width="1.50"/>
<path d="M145.7,208.7 L145.7,213.8" stroke-width="1.10"/>
<path d="M141.6,172.5 L145.8,172.5 L141.6,174.9 L145.8,174.9 L143.7,177.3" stroke-width="1.20"/>
<path d="M143.9,214.7 L143.9,219.3" stroke-width="1.20"/>
<path d="M146.7,214.7 L146.7,219.5" stroke-width="1.20"/>
<path d="M139.5,218.9 L151.5,221.4" stroke-width="1.20"/>
<circle cx="152.7" cy="221.8" r="1.5" stroke-width="1.20" fill="#fff"/>
<path d="M176.0,167.6 L176.0,226.5" stroke-width="1.30"/>
<circle cx="176.0" cy="167.6" r="1.4" fill="#1c1c1c" stroke="none"/>
<circle cx="176.0" cy="226.5" r="1.5" fill="#1c1c1c" stroke="none"/>
<circle cx="176.0" cy="193.0" r="1.4" fill="#1c1c1c" stroke="none"/>
<path d="M176.0,167.6 L168.6,167.6 L168.6,173.1" stroke-width="1.30"/>
<path d="M168.6,179.1 L168.6,185.5 L176.0,185.5" stroke-width="1.30"/>
<rect x="165.7" y="173.0" width="5.8" height="6.2" stroke-width="2.20" fill="#fff" rx="0.0"/>
<path d="M168.0,174.1 L168.0,178.1" stroke-width="1.20"/>
<path d="M171.5,176.1 L174.1,176.1" stroke-width="1.10"/>
<path d="M165.7,176.4 L161.7,176.4 L161.7,169.5 L166.3,169.5" stroke-width="1.10" stroke-dasharray="2.4,1.3"/>
<polygon points="173.6,179.9 178.4,179.9 176.0,184.3" fill="#777" stroke-width="1.2"/>
<path d="M173.7,184.5 L178.3,184.5" stroke-width="1.00"/>
<circle cx="176.0" cy="179.3" r="1.2" fill="#1c1c1c" stroke="none"/>
<polygon points="167.9,193.0 170.3,195.4 167.9,197.8 165.5,195.4" fill="#fff" stroke-width="1.6"/>
<path d="M169.9,193.8 L176.0,193.0" stroke-width="1.30"/>
<circle cx="165.3" cy="197.2" r="1.3" fill="#1c1c1c" stroke="none"/>
<path d="M176.0,193.0 L181.3,193.0" stroke-width="1.30"/>
<rect x="182.2" y="177.5" width="11.1" height="36.3" stroke-width="1.70" fill="#fff" rx="0.0"/>
<path d="M182.2,182.7 L193.3,182.7" stroke-width="1.40"/>
<path d="M182.2,187.9 L193.3,187.9" stroke-width="1.40"/>
<path d="M182.2,193.1 L193.3,193.1" stroke-width="1.40"/>
<path d="M182.2,198.3 L193.3,198.3" stroke-width="1.40"/>
<path d="M182.2,203.5 L193.3,203.5" stroke-width="1.40"/>
<path d="M182.2,208.7 L193.3,208.7" stroke-width="1.40"/>
<path d="M183.0,178.1 L192.5,182.3" stroke-width="1.60"/>
<path d="M192.5,178.1 L183.0,182.3" stroke-width="1.60"/>
<path d="M183.0,183.3 L187.7,187.4 L192.5,183.3" stroke-width="1.60"/>
<path d="M187.7,182.7 L187.7,187.9" stroke-width="1.30"/>
<path d="M183.5,190.5 L186.9,190.5" stroke-width="1.60"/>
<path d="M188.7,190.5 L191.9,190.5" stroke-width="1.60"/>
<path d="M187.8,187.9 L187.8,193.1" stroke-width="1.10"/>
<path d="M184.9,193.1 L184.9,198.3" stroke-width="1.30"/>
<path d="M190.5,193.1 L190.5,198.3" stroke-width="1.30"/>
<path d="M186.1,195.7 L189.3,195.7" stroke-width="1.30"/>
<path d="M183.5,200.9 L186.9,200.9" stroke-width="1.60"/>
<path d="M188.7,200.9 L191.9,200.9" stroke-width="1.60"/>
<path d="M187.8,198.3 L187.8,203.5" stroke-width="1.10"/>
<path d="M183.5,206.1 L187.3,206.1" stroke-width="1.50"/>
<path d="M189.7,203.5 L189.7,208.7" stroke-width="1.10"/>
<path d="M183.5,211.3 L187.3,211.3" stroke-width="1.50"/>
<path d="M189.7,208.7 L189.7,213.8" stroke-width="1.10"/>
<path d="M185.6,172.5 L189.8,172.5 L185.6,174.9 L189.8,174.9 L187.7,177.3" stroke-width="1.20"/>
<path d="M187.9,214.7 L187.9,219.3" stroke-width="1.20"/>
<path d="M190.7,214.7 L190.7,219.5" stroke-width="1.20"/>
<path d="M183.5,218.9 L195.5,221.4" stroke-width="1.20"/>
<circle cx="196.7" cy="221.8" r="1.5" stroke-width="1.20" fill="#fff"/>
<path d="M36.5,196.8 L33.0,196.8 L33.0,206.0" stroke-width="1.30"/>
<path d="M33.6,199.5 L33.6,227.8" stroke-width="1.30"/>
<circle cx="33.6" cy="227.8" r="1.5" fill="#1c1c1c" stroke="none"/>
<rect x="30.8" y="206.7" width="5.6" height="5.6" stroke-width="2.10" fill="#fff" rx="0.0"/>
<path d="M33.0,207.7 L33.0,211.3" stroke-width="1.20"/>
<polygon points="26.1,207.3 30.6,209.5 27.6,211.0" fill="#1c1c1c" stroke-width="0.0"/>
<path d="M37.0,203.9 a2.8,2.8 0 1 1 0,5.2" stroke-width="1.0" fill="none" stroke-dasharray="2.2,1.3"/>
<text x="33.6" y="187.4" font-size="7.5" text-anchor="end" font-weight="bold" font-family="&quot;Liberation Serif&quot;, serif" stroke="none" fill="#1c1c1c">18</text>
<path d="M58.9,144.9 L58.9,161.0 L66.5,161.0 L66.5,194.0 L62.7,194.0" stroke-width="1.30"/>
<path d="M69.9,144.9 L69.9,195.9 L62.7,195.9" stroke-width="1.30"/>
<circle cx="66.5" cy="168.2" r="1.4" fill="#1c1c1c" stroke="none"/>
<path d="M103.3,144.6 L103.3,160.2 L110.9,160.2 L110.9,193.5 L106.5,193.5" stroke-width="1.30"/>
<path d="M113.4,144.6 L113.4,195.4 L106.5,195.4" stroke-width="1.30"/>
<circle cx="110.9" cy="167.7" r="1.4" fill="#1c1c1c" stroke="none"/>
<path d="M146.2,143.9 L146.2,156.3 L154.3,156.3 L154.3,193.2 L150.1,193.2" stroke-width="1.30"/>
<path d="M157.1,143.9 L157.1,195.1 L150.1,195.1" stroke-width="1.30"/>
<circle cx="154.3" cy="167.4" r="1.4" fill="#1c1c1c" stroke="none"/>
<path d="M190.2,143.5 L190.2,155.3 L197.8,155.3 L197.8,193.2 L194.1,193.2" stroke-width="1.30"/>
<path d="M201.0,143.5 L201.0,195.1 L194.1,195.1" stroke-width="1.30"/>
<circle cx="197.8" cy="167.0" r="1.4" fill="#1c1c1c" stroke="none"/>
<path d="M77.8,161.2 L77.8,154.6 L103.3,154.0" stroke-width="1.30"/>
<rect x="84.2" y="151.8" width="5.1" height="4.9" stroke-width="2.30" fill="#fff" rx="0.0"/>
<path d="M86.8,157.0 L86.8,160.2" stroke-width="1.40"/>
<path d="M86.8,150.0 q3.2,-3.6 6.2,-0.6" stroke-width="1.0" fill="none" stroke-dasharray="2.2,1.2"/>
<circle cx="103.3" cy="154.0" r="1.4" fill="#1c1c1c" stroke="none"/>
<path d="M166.2,160.5 L166.2,153.2 L190.2,152.6" stroke-width="1.30"/>
<rect x="171.6" y="150.7" width="5.7" height="4.4" stroke-width="2.30" fill="#fff" rx="0.0"/>
<path d="M174.4,155.4 L174.4,158.6" stroke-width="1.40"/>
<path d="M174.4,148.9 q3.2,-3.6 6.2,-0.6" stroke-width="1.0" fill="none" stroke-dasharray="2.2,1.2"/>
<circle cx="190.2" cy="152.6" r="1.4" fill="#1c1c1c" stroke="none"/>
<path d="M210.2,231.5 L210.2,163.3 L357.0,162.4 L357.0,230.7 L210.2,231.6" stroke-width="1.20" stroke-dasharray="13,1.5,2.2,1.5"/>
<path d="M205.8,244.0 L206.4,160.3 L316.3,159.6 L316.3,152.2 L320.5,152.2" stroke-width="1.30"/>
<circle cx="205.8" cy="244.0" r="1.5" fill="#1c1c1c" stroke="none"/>
<circle cx="206.4" cy="160.3" r="1.4" fill="#1c1c1c" stroke="none"/>
<path d="M225.8,166.9 L348.0,166.2" stroke-width="1.30"/>
<path d="M213.9,260.3 L213.9,198.3 L350.5,197.5 L350.5,225.5" stroke-width="1.30"/>
<path d="M350.5,225.4 L218.6,226.2 L218.6,244.0" stroke-width="1.30"/>
<circle cx="218.6" cy="244.0" r="1.5" fill="#1c1c1c" stroke="none"/>
<path d="M233.0,166.7 L233.0,225.6" stroke-width="1.30"/>
<circle cx="233.0" cy="166.7" r="1.4" fill="#1c1c1c" stroke="none"/>
<circle cx="233.0" cy="225.6" r="1.5" fill="#1c1c1c" stroke="none"/>
<circle cx="233.0" cy="192.1" r="1.4" fill="#1c1c1c" stroke="none"/>
<path d="M233.0,166.7 L225.6,166.7 L225.6,172.2" stroke-width="1.30"/>
<path d="M225.6,178.2 L225.6,184.6 L233.0,184.6" stroke-width="1.30"/>
<rect x="222.7" y="172.1" width="5.8" height="6.2" stroke-width="2.20" fill="#fff" rx="0.0"/>
<path d="M225.0,173.2 L225.0,177.2" stroke-width="1.20"/>
<path d="M228.5,175.2 L231.1,175.2" stroke-width="1.10"/>
<path d="M222.7,175.5 L218.7,175.5 L218.7,168.6 L223.3,168.6" stroke-width="1.10" stroke-dasharray="2.4,1.3"/>
<polygon points="230.6,179.0 235.4,179.0 233.0,183.4" fill="#777" stroke-width="1.2"/>
<path d="M230.7,183.6 L235.3,183.6" stroke-width="1.00"/>
<circle cx="233.0" cy="178.4" r="1.2" fill="#1c1c1c" stroke="none"/>
<polygon points="224.9,192.1 227.3,194.5 224.9,196.9 222.5,194.5" fill="#fff" stroke-width="1.6"/>
<path d="M226.9,192.9 L233.0,192.1" stroke-width="1.30"/>
<circle cx="222.3" cy="196.3" r="1.3" fill="#1c1c1c" stroke="none"/>
<path d="M233.0,192.1 L238.3,192.1" stroke-width="1.30"/>
<rect x="239.2" y="176.7" width="11.1" height="36.3" stroke-width="1.70" fill="#fff" rx="0.0"/>
<path d="M239.2,181.8 L250.3,181.8" stroke-width="1.40"/>
<path d="M239.2,187.0 L250.3,187.0" stroke-width="1.40"/>
<path d="M239.2,192.2 L250.3,192.2" stroke-width="1.40"/>
<path d="M239.2,197.4 L250.3,197.4" stroke-width="1.40"/>
<path d="M239.2,202.6 L250.3,202.6" stroke-width="1.40"/>
<path d="M239.2,207.8 L250.3,207.8" stroke-width="1.40"/>
<path d="M240.0,177.2 L249.5,181.4" stroke-width="1.60"/>
<path d="M249.5,177.2 L240.0,181.4" stroke-width="1.60"/>
<path d="M240.0,182.4 L244.7,186.5 L249.5,182.4" stroke-width="1.60"/>
<path d="M244.7,181.8 L244.7,187.0" stroke-width="1.30"/>
<path d="M240.5,189.6 L243.9,189.6" stroke-width="1.60"/>
<path d="M245.7,189.6 L248.9,189.6" stroke-width="1.60"/>
<path d="M244.8,187.0 L244.8,192.2" stroke-width="1.10"/>
<path d="M241.9,192.2 L241.9,197.4" stroke-width="1.30"/>
<path d="M247.5,192.2 L247.5,197.4" stroke-width="1.30"/>
<path d="M243.1,194.8 L246.3,194.8" stroke-width="1.30"/>
<path d="M240.5,200.0 L243.9,200.0" stroke-width="1.60"/>
<path d="M245.7,200.0 L248.9,200.0" stroke-width="1.60"/>
<path d="M244.8,197.4 L244.8,202.6" stroke-width="1.10"/>
<path d="M240.5,205.2 L244.3,205.2" stroke-width="1.50"/>
<path d="M246.7,202.6 L246.7,207.8" stroke-width="1.10"/>
<path d="M240.5,210.4 L244.3,210.4" stroke-width="1.50"/>
<path d="M246.7,207.8 L246.7,213.0" stroke-width="1.10"/>
<path d="M242.6,171.6 L246.8,171.6 L242.6,174.0 L246.8,174.0 L244.7,176.4" stroke-width="1.20"/>
<path d="M244.9,213.8 L244.9,218.4" stroke-width="1.20"/>
<path d="M247.7,213.8 L247.7,218.6" stroke-width="1.20"/>
<path d="M240.5,218.0 L252.5,220.5" stroke-width="1.20"/>
<circle cx="253.7" cy="220.9" r="1.5" stroke-width="1.20" fill="#fff"/>
<path d="M278.5,166.5 L278.5,225.4" stroke-width="1.30"/>
<circle cx="278.5" cy="166.5" r="1.4" fill="#1c1c1c" stroke="none"/>
<circle cx="278.5" cy="225.4" r="1.5" fill="#1c1c1c" stroke="none"/>
<circle cx="278.5" cy="191.9" r="1.4" fill="#1c1c1c" stroke="none"/>
<path d="M278.5,166.5 L271.1,166.5 L271.1,172.0" stroke-width="1.30"/>
<path d="M271.1,178.0 L271.1,184.4 L278.5,184.4" stroke-width="1.30"/>
<rect x="268.2" y="171.9" width="5.8" height="6.2" stroke-width="2.20" fill="#fff" rx="0.0"/>
<path d="M270.5,173.0 L270.5,177.0" stroke-width="1.20"/>
<path d="M274.0,175.0 L276.6,175.0" stroke-width="1.10"/>
<path d="M268.2,175.3 L264.2,175.3 L264.2,168.4 L268.8,168.4" stroke-width="1.10" stroke-dasharray="2.4,1.3"/>
<polygon points="276.1,178.8 280.9,178.8 278.5,183.2" fill="#777" stroke-width="1.2"/>
<path d="M276.2,183.4 L280.8,183.4" stroke-width="1.00"/>
<circle cx="278.5" cy="178.2" r="1.2" fill="#1c1c1c" stroke="none"/>
<polygon points="270.4,191.9 272.8,194.3 270.4,196.7 268.0,194.3" fill="#fff" stroke-width="1.6"/>
<path d="M272.4,192.7 L278.5,191.9" stroke-width="1.30"/>
<circle cx="267.8" cy="196.1" r="1.3" fill="#1c1c1c" stroke="none"/>
<path d="M278.5,191.9 L283.8,191.9" stroke-width="1.30"/>
<rect x="284.7" y="176.4" width="11.1" height="36.3" stroke-width="1.70" fill="#fff" rx="0.0"/>
<path d="M284.7,181.6 L295.8,181.6" stroke-width="1.40"/>
<path d="M284.7,186.8 L295.8,186.8" stroke-width="1.40"/>
<path d="M284.7,192.0 L295.8,192.0" stroke-width="1.40"/>
<path d="M284.7,197.2 L295.8,197.2" stroke-width="1.40"/>
<path d="M284.7,202.4 L295.8,202.4" stroke-width="1.40"/>
<path d="M284.7,207.6 L295.8,207.6" stroke-width="1.40"/>
<path d="M285.5,177.0 L294.9,181.2" stroke-width="1.60"/>
<path d="M294.9,177.0 L285.5,181.2" stroke-width="1.60"/>
<path d="M285.5,182.2 L290.2,186.3 L294.9,182.2" stroke-width="1.60"/>
<path d="M290.2,181.6 L290.2,186.8" stroke-width="1.30"/>
<path d="M286.0,189.4 L289.4,189.4" stroke-width="1.60"/>
<path d="M291.2,189.4 L294.4,189.4" stroke-width="1.60"/>
<path d="M290.3,186.8 L290.3,192.0" stroke-width="1.10"/>
<path d="M287.4,192.0 L287.4,197.2" stroke-width="1.30"/>
<path d="M293.0,192.0 L293.0,197.2" stroke-width="1.30"/>
<path d="M288.6,194.6 L291.8,194.6" stroke-width="1.30"/>
<path d="M286.0,199.8 L289.4,199.8" stroke-width="1.60"/>
<path d="M291.2,199.8 L294.4,199.8" stroke-width="1.60"/>
<path d="M290.3,197.2 L290.3,202.4" stroke-width="1.10"/>
<path d="M286.0,205.0 L289.8,205.0" stroke-width="1.50"/>
<path d="M292.2,202.4 L292.2,207.6" stroke-width="1.10"/>
<path d="M286.0,210.2 L289.8,210.2" stroke-width="1.50"/>
<path d="M292.2,207.6 L292.2,212.8" stroke-width="1.10"/>
<path d="M288.1,171.4 L292.3,171.4 L288.1,173.8 L292.3,173.8 L290.2,176.2" stroke-width="1.20"/>
<path d="M290.4,213.6 L290.4,218.2" stroke-width="1.20"/>
<path d="M293.2,213.6 L293.2,218.4" stroke-width="1.20"/>
<path d="M286.0,217.8 L298.0,220.3" stroke-width="1.20"/>
<circle cx="299.2" cy="220.7" r="1.5" stroke-width="1.20" fill="#fff"/>
<path d="M325.9,166.2 L325.9,225.1" stroke-width="1.30"/>
<circle cx="325.9" cy="166.2" r="1.4" fill="#1c1c1c" stroke="none"/>
<circle cx="325.9" cy="225.1" r="1.5" fill="#1c1c1c" stroke="none"/>
<circle cx="325.9" cy="191.6" r="1.4" fill="#1c1c1c" stroke="none"/>
<path d="M325.9,166.2 L318.5,166.2 L318.5,171.7" stroke-width="1.30"/>
<path d="M318.5,177.7 L318.5,184.1 L325.9,184.1" stroke-width="1.30"/>
<rect x="315.6" y="171.6" width="5.8" height="6.2" stroke-width="2.20" fill="#fff" rx="0.0"/>
<path d="M317.9,172.7 L317.9,176.7" stroke-width="1.20"/>
<path d="M321.4,174.7 L324.0,174.7" stroke-width="1.10"/>
<path d="M315.6,175.0 L311.6,175.0 L311.6,168.1 L316.2,168.1" stroke-width="1.10" stroke-dasharray="2.4,1.3"/>
<polygon points="323.5,178.5 328.3,178.5 325.9,182.9" fill="#777" stroke-width="1.2"/>
<path d="M323.6,183.1 L328.2,183.1" stroke-width="1.00"/>
<circle cx="325.9" cy="177.9" r="1.2" fill="#1c1c1c" stroke="none"/>
<polygon points="317.8,191.6 320.2,194.0 317.8,196.4 315.4,194.0" fill="#fff" stroke-width="1.6"/>
<path d="M319.8,192.4 L325.9,191.6" stroke-width="1.30"/>
<circle cx="315.2" cy="195.8" r="1.3" fill="#1c1c1c" stroke="none"/>
<path d="M325.9,191.6 L331.2,191.6" stroke-width="1.30"/>
<rect x="332.1" y="176.2" width="11.1" height="36.3" stroke-width="1.70" fill="#fff" rx="0.0"/>
<path d="M332.1,181.3 L343.1,181.3" stroke-width="1.40"/>
<path d="M332.1,186.5 L343.1,186.5" stroke-width="1.40"/>
<path d="M332.1,191.7 L343.1,191.7" stroke-width="1.40"/>
<path d="M332.1,196.9 L343.1,196.9" stroke-width="1.40"/>
<path d="M332.1,202.1 L343.1,202.1" stroke-width="1.40"/>
<path d="M332.1,207.3 L343.1,207.3" stroke-width="1.40"/>
<path d="M332.9,176.8 L342.3,180.9" stroke-width="1.60"/>
<path d="M342.3,176.8 L332.9,180.9" stroke-width="1.60"/>
<path d="M332.9,181.9 L337.6,186.0 L342.3,181.9" stroke-width="1.60"/>
<path d="M337.6,181.3 L337.6,186.5" stroke-width="1.30"/>
<path d="M333.4,189.1 L336.8,189.1" stroke-width="1.60"/>
<path d="M338.6,189.1 L341.8,189.1" stroke-width="1.60"/>
<path d="M337.7,186.5 L337.7,191.7" stroke-width="1.10"/>
<path d="M334.8,191.7 L334.8,196.9" stroke-width="1.30"/>
<path d="M340.4,191.7 L340.4,196.9" stroke-width="1.30"/>
<path d="M336.0,194.3 L339.2,194.3" stroke-width="1.30"/>
<path d="M333.4,199.5 L336.8,199.5" stroke-width="1.60"/>
<path d="M338.6,199.5 L341.8,199.5" stroke-width="1.60"/>
<path d="M337.7,196.9 L337.7,202.1" stroke-width="1.10"/>
<path d="M333.4,204.7 L337.2,204.7" stroke-width="1.50"/>
<path d="M339.6,202.1 L339.6,207.3" stroke-width="1.10"/>
<path d="M333.4,209.9 L337.2,209.9" stroke-width="1.50"/>
<path d="M339.6,207.3 L339.6,212.5" stroke-width="1.10"/>
<path d="M335.5,171.1 L339.7,171.1 L335.5,173.5 L339.7,173.5 L337.6,175.9" stroke-width="1.20"/>
<path d="M337.8,213.3 L337.8,217.9" stroke-width="1.20"/>
<path d="M340.6,213.3 L340.6,218.1" stroke-width="1.20"/>
<path d="M333.4,217.5 L345.4,220.0" stroke-width="1.20"/>
<circle cx="346.6" cy="220.4" r="1.5" stroke-width="1.20" fill="#fff"/>
<path d="M226.0,194.3 L222.8,194.3 L222.8,204.0" stroke-width="1.30"/>
<path d="M222.9,198.3 L222.9,225.8" stroke-width="1.30"/>
<circle cx="222.9" cy="225.8" r="1.5" fill="#1c1c1c" stroke="none"/>
<rect x="220.1" y="204.6" width="5.6" height="5.6" stroke-width="2.10" fill="#fff" rx="0.0"/>
<path d="M222.3,205.6 L222.3,209.2" stroke-width="1.20"/>
<polygon points="215.4,205.2 219.9,207.4 216.9,208.9" fill="#1c1c1c" stroke-width="0.0"/>
<path d="M226.3,201.8 a2.8,2.8 0 1 1 0,5.2" stroke-width="1.0" fill="none" stroke-dasharray="2.2,1.3"/>
<text x="223.6" y="186.8" font-size="7.4" text-anchor="end" font-weight="bold" font-family="&quot;Liberation Serif&quot;, serif" stroke="none" fill="#1c1c1c">19</text>
<path d="M247.5,143.2 L247.5,155.0 L255.2,155.0 L255.2,192.3 L251.1,192.3" stroke-width="1.30"/>
<path d="M258.4,143.2 L258.4,194.2 L251.1,194.2" stroke-width="1.30"/>
<circle cx="255.2" cy="166.7" r="1.4" fill="#1c1c1c" stroke="none"/>
<path d="M294.4,142.2 L294.4,154.0 L301.5,154.0 L301.5,192.1 L296.6,192.1" stroke-width="1.30"/>
<path d="M304.8,142.2 L304.8,194.0 L296.6,194.0" stroke-width="1.30"/>
<circle cx="301.5" cy="166.5" r="1.4" fill="#1c1c1c" stroke="none"/>
<path d="M340.4,142.2 L340.4,155.6 L348.0,155.6 L348.0,191.8 L344.0,191.8" stroke-width="1.30"/>
<path d="M351.0,142.2 L351.0,193.7 L344.0,193.7" stroke-width="1.30"/>
<circle cx="348.0" cy="166.2" r="1.4" fill="#1c1c1c" stroke="none"/>
<rect x="320.8" y="149.9" width="5.2" height="4.4" stroke-width="2.30" fill="#fff" rx="0.0"/>
<path d="M326.3,151.6 L340.4,151.5" stroke-width="1.30"/>
<circle cx="340.4" cy="151.4" r="1.4" fill="#1c1c1c" stroke="none"/>
<path d="M323.4,154.6 L323.4,158.0" stroke-width="1.20"/>
<path d="M322.5,148 q3.5,-4 6.5,-0.5" stroke-width="1.0" fill="none" stroke-dasharray="2.2,1.2"/>
<path d="M361.0,230.7 L361.0,163.4 L499.0,162.6 L499.0,230.0 L361.0,230.8" stroke-width="1.20" stroke-dasharray="13,1.5,2.2,1.5"/>
<path d="M371.7,193.2 L371.7,167.2 L482.0,166.5" stroke-width="1.30"/>
<path d="M371.7,193.2 L377.5,193.2" stroke-width="1.30"/>
<path d="M369.7,198.5 L369.7,225.5 L497.0,224.7" stroke-width="1.30"/>
<path d="M369.7,198.5 L497.0,197.7 L497.0,282.1" stroke-width="1.30"/>
<path d="M394.5,165.5 L394.5,224.4" stroke-width="1.30"/>
<circle cx="394.5" cy="165.5" r="1.4" fill="#1c1c1c" stroke="none"/>
<circle cx="394.5" cy="224.4" r="1.5" fill="#1c1c1c" stroke="none"/>
<circle cx="394.5" cy="190.9" r="1.4" fill="#1c1c1c" stroke="none"/>
<path d="M394.5,165.5 L402.1,165.5 L402.1,171.4" stroke-width="1.30"/>
<path d="M402.1,177.4 L402.1,183.4 L394.5,183.4" stroke-width="1.30"/>
<rect x="399.2" y="171.3" width="5.8" height="6.2" stroke-width="2.20" fill="#fff" rx="0.0"/>
<path d="M401.5,172.4 L401.5,176.4" stroke-width="1.20"/>
<path d="M399.2,174.4 L396.6,174.4" stroke-width="1.10"/>
<path d="M405.0,174.7 L409.0,174.7 L409.0,167.8 L404.4,167.8" stroke-width="1.10" stroke-dasharray="2.4,1.3"/>
<polygon points="392.1,177.8 396.9,177.8 394.5,182.2" fill="#777" stroke-width="1.2"/>
<path d="M392.2,182.4 L396.8,182.4" stroke-width="1.00"/>
<circle cx="394.5" cy="177.2" r="1.2" fill="#1c1c1c" stroke="none"/>
<polygon points="402.5,192.2 404.9,194.6 402.5,197.0 400.1,194.6" fill="#fff" stroke-width="1.6"/>
<path d="M400.5,193.0 L394.5,190.9" stroke-width="1.30"/>
<circle cx="405.3" cy="196.8" r="1.3" fill="#1c1c1c" stroke="none"/>
<path d="M394.5,190.9 L390.3,190.9" stroke-width="1.30"/>
<path d="M394.5,193.6 L390.3,193.6" stroke-width="1.30"/>
<rect x="378.4" y="175.4" width="11.1" height="36.3" stroke-width="1.70" fill="#fff" rx="0.0"/>
<path d="M378.4,180.6 L389.4,180.6" stroke-width="1.40"/>
<path d="M378.4,185.8 L389.4,185.8" stroke-width="1.40"/>
<path d="M378.4,191.0 L389.4,191.0" stroke-width="1.40"/>
<path d="M378.4,196.2 L389.4,196.2" stroke-width="1.40"/>
<path d="M378.4,201.4 L389.4,201.4" stroke-width="1.40"/>
<path d="M378.4,206.6 L389.4,206.6" stroke-width="1.40"/>
<path d="M379.2,176.0 L388.6,180.2" stroke-width="1.60"/>
<path d="M388.6,176.0 L379.2,180.2" stroke-width="1.60"/>
<path d="M379.2,181.2 L383.9,185.3 L388.6,181.2" stroke-width="1.60"/>
<path d="M383.9,180.6 L383.9,185.8" stroke-width="1.30"/>
<path d="M379.7,188.4 L383.1,188.4" stroke-width="1.60"/>
<path d="M384.9,188.4 L388.1,188.4" stroke-width="1.60"/>
<path d="M384.0,185.8 L384.0,191.0" stroke-width="1.10"/>
<path d="M381.1,191.0 L381.1,196.2" stroke-width="1.30"/>
<path d="M386.7,191.0 L386.7,196.2" stroke-width="1.30"/>
<path d="M382.3,193.6 L385.5,193.6" stroke-width="1.30"/>
<path d="M379.7,198.8 L383.1,198.8" stroke-width="1.60"/>
<path d="M384.9,198.8 L388.1,198.8" stroke-width="1.60"/>
<path d="M384.0,196.2 L384.0,201.4" stroke-width="1.10"/>
<path d="M379.7,204.0 L383.5,204.0" stroke-width="1.50"/>
<path d="M385.9,201.4 L385.9,206.6" stroke-width="1.10"/>
<path d="M379.7,209.2 L383.5,209.2" stroke-width="1.50"/>
<path d="M385.9,206.6 L385.9,211.8" stroke-width="1.10"/>
<rect x="382.1" y="168.3" width="4.0" height="7.1" stroke-width="1.50" fill="#fff" rx="0.0"/>
<path d="M384.1,212.6 L384.1,217.2" stroke-width="1.20"/>
<path d="M386.9,212.6 L386.9,217.4" stroke-width="1.20"/>
<path d="M379.0,216.2 L389.5,219.0" stroke-width="1.20"/>
<circle cx="390.7" cy="219.4" r="1.5" stroke-width="1.20" fill="#fff"/>
<path d="M437.7,165.9 L437.7,224.8" stroke-width="1.30"/>
<circle cx="437.7" cy="165.9" r="1.4" fill="#1c1c1c" stroke="none"/>
<circle cx="437.7" cy="224.8" r="1.5" fill="#1c1c1c" stroke="none"/>
<circle cx="437.7" cy="191.3" r="1.4" fill="#1c1c1c" stroke="none"/>
<path d="M437.7,165.9 L445.3,165.9 L445.3,171.8" stroke-width="1.30"/>
<path d="M445.3,177.8 L445.3,183.8 L437.7,183.8" stroke-width="1.30"/>
<rect x="442.4" y="171.7" width="5.8" height="6.2" stroke-width="2.20" fill="#fff" rx="0.0"/>
<path d="M444.7,172.8 L444.7,176.8" stroke-width="1.20"/>
<path d="M442.4,174.8 L439.8,174.8" stroke-width="1.10"/>
<path d="M448.2,175.1 L452.2,175.1 L452.2,168.2 L447.6,168.2" stroke-width="1.10" stroke-dasharray="2.4,1.3"/>
<polygon points="435.3,178.2 440.1,178.2 437.7,182.6" fill="#777" stroke-width="1.2"/>
<path d="M435.4,182.8 L440.0,182.8" stroke-width="1.00"/>
<circle cx="437.7" cy="177.6" r="1.2" fill="#1c1c1c" stroke="none"/>
<polygon points="445.7,192.6 448.1,195.0 445.7,197.4 443.3,195.0" fill="#fff" stroke-width="1.6"/>
<path d="M443.7,193.4 L437.7,191.3" stroke-width="1.30"/>
<circle cx="448.5" cy="197.2" r="1.3" fill="#1c1c1c" stroke="none"/>
<path d="M437.7,191.3 L433.5,191.3" stroke-width="1.30"/>
<path d="M437.7,194.0 L433.5,194.0" stroke-width="1.30"/>
<rect x="421.6" y="175.8" width="11.1" height="36.3" stroke-width="1.70" fill="#fff" rx="0.0"/>
<path d="M421.6,181.0 L432.6,181.0" stroke-width="1.40"/>
<path d="M421.6,186.2 L432.6,186.2" stroke-width="1.40"/>
<path d="M421.6,191.4 L432.6,191.4" stroke-width="1.40"/>
<path d="M421.6,196.6 L432.6,196.6" stroke-width="1.40"/>
<path d="M421.6,201.8 L432.6,201.8" stroke-width="1.40"/>
<path d="M421.6,207.0 L432.6,207.0" stroke-width="1.40"/>
<path d="M422.4,176.4 L431.8,180.6" stroke-width="1.60"/>
<path d="M431.8,176.4 L422.4,180.6" stroke-width="1.60"/>
<path d="M422.4,181.6 L427.1,185.7 L431.8,181.6" stroke-width="1.60"/>
<path d="M427.1,181.0 L427.1,186.2" stroke-width="1.30"/>
<path d="M422.9,188.8 L426.3,188.8" stroke-width="1.60"/>
<path d="M428.1,188.8 L431.3,188.8" stroke-width="1.60"/>
<path d="M427.2,186.2 L427.2,191.4" stroke-width="1.10"/>
<path d="M424.3,191.4 L424.3,196.6" stroke-width="1.30"/>
<path d="M429.9,191.4 L429.9,196.6" stroke-width="1.30"/>
<path d="M425.5,194.0 L428.7,194.0" stroke-width="1.30"/>
<path d="M422.9,199.2 L426.3,199.2" stroke-width="1.60"/>
<path d="M428.1,199.2 L431.3,199.2" stroke-width="1.60"/>
<path d="M427.2,196.6 L427.2,201.8" stroke-width="1.10"/>
<path d="M422.9,204.4 L426.7,204.4" stroke-width="1.50"/>
<path d="M429.1,201.8 L429.1,207.0" stroke-width="1.10"/>
<path d="M422.9,209.6 L426.7,209.6" stroke-width="1.50"/>
<path d="M429.1,207.0 L429.1,212.2" stroke-width="1.10"/>
<rect x="425.3" y="168.7" width="4.0" height="7.1" stroke-width="1.50" fill="#fff" rx="0.0"/>
<path d="M427.3,213.0 L427.3,217.6" stroke-width="1.20"/>
<path d="M430.1,213.0 L430.1,217.8" stroke-width="1.20"/>
<path d="M422.2,216.6 L432.7,219.4" stroke-width="1.20"/>
<circle cx="433.9" cy="219.8" r="1.5" stroke-width="1.20" fill="#fff"/>
<path d="M478.7,165.8 L478.7,224.7" stroke-width="1.30"/>
<circle cx="478.7" cy="165.8" r="1.4" fill="#1c1c1c" stroke="none"/>
<circle cx="478.7" cy="224.7" r="1.5" fill="#1c1c1c" stroke="none"/>
<circle cx="478.7" cy="191.2" r="1.4" fill="#1c1c1c" stroke="none"/>
<path d="M478.7,165.8 L486.3,165.8 L486.3,171.7" stroke-width="1.30"/>
<path d="M486.3,177.7 L486.3,183.7 L478.7,183.7" stroke-width="1.30"/>
<rect x="483.4" y="171.6" width="5.8" height="6.2" stroke-width="2.20" fill="#fff" rx="0.0"/>
<path d="M485.7,172.7 L485.7,176.7" stroke-width="1.20"/>
<path d="M483.4,174.7 L480.8,174.7" stroke-width="1.10"/>
<path d="M489.2,175.0 L493.2,175.0 L493.2,168.1 L488.6,168.1" stroke-width="1.10" stroke-dasharray="2.4,1.3"/>
<polygon points="476.3,178.1 481.1,178.1 478.7,182.5" fill="#777" stroke-width="1.2"/>
<path d="M476.4,182.7 L481.0,182.7" stroke-width="1.00"/>
<circle cx="478.7" cy="177.5" r="1.2" fill="#1c1c1c" stroke="none"/>
<polygon points="486.7,192.5 489.1,194.9 486.7,197.3 484.3,194.9" fill="#fff" stroke-width="1.6"/>
<path d="M484.7,193.3 L478.7,191.2" stroke-width="1.30"/>
<circle cx="489.5" cy="197.1" r="1.3" fill="#1c1c1c" stroke="none"/>
<path d="M478.7,191.2 L474.5,191.2" stroke-width="1.30"/>
<path d="M478.7,193.9 L474.5,193.9" stroke-width="1.30"/>
<rect x="462.6" y="175.8" width="11.1" height="36.3" stroke-width="1.70" fill="#fff" rx="0.0"/>
<path d="M462.6,180.9 L473.6,180.9" stroke-width="1.40"/>
<path d="M462.6,186.1 L473.6,186.1" stroke-width="1.40"/>
<path d="M462.6,191.3 L473.6,191.3" stroke-width="1.40"/>
<path d="M462.6,196.5 L473.6,196.5" stroke-width="1.40"/>
<path d="M462.6,201.7 L473.6,201.7" stroke-width="1.40"/>
<path d="M462.6,206.9 L473.6,206.9" stroke-width="1.40"/>
<path d="M463.4,176.3 L472.8,180.5" stroke-width="1.60"/>
<path d="M472.8,176.3 L463.4,180.5" stroke-width="1.60"/>
<path d="M463.4,181.5 L468.1,185.6 L472.8,181.5" stroke-width="1.60"/>
<path d="M468.1,180.9 L468.1,186.1" stroke-width="1.30"/>
<path d="M463.9,188.7 L467.3,188.7" stroke-width="1.60"/>
<path d="M469.1,188.7 L472.3,188.7" stroke-width="1.60"/>
<path d="M468.2,186.1 L468.2,191.3" stroke-width="1.10"/>
<path d="M465.3,191.3 L465.3,196.5" stroke-width="1.30"/>
<path d="M470.9,191.3 L470.9,196.5" stroke-width="1.30"/>
<path d="M466.5,193.9 L469.7,193.9" stroke-width="1.30"/>
<path d="M463.9,199.1 L467.3,199.1" stroke-width="1.60"/>
<path d="M469.1,199.1 L472.3,199.1" stroke-width="1.60"/>
<path d="M468.2,196.5 L468.2,201.7" stroke-width="1.10"/>
<path d="M463.9,204.3 L467.7,204.3" stroke-width="1.50"/>
<path d="M470.1,201.7 L470.1,206.9" stroke-width="1.10"/>
<path d="M463.9,209.5 L467.7,209.5" stroke-width="1.50"/>
<path d="M470.1,206.9 L470.1,212.1" stroke-width="1.10"/>
<rect x="466.3" y="168.6" width="4.0" height="7.1" stroke-width="1.50" fill="#fff" rx="0.0"/>
<path d="M468.3,212.9 L468.3,217.5" stroke-width="1.20"/>
<path d="M471.1,212.9 L471.1,217.7" stroke-width="1.20"/>
<path d="M463.2,216.5 L473.7,219.3" stroke-width="1.20"/>
<circle cx="474.9" cy="219.7" r="1.5" stroke-width="1.20" fill="#fff"/>
<path d="M412.0,154.0 L416.6,154.0" stroke-width="1.80"/>
<path d="M413.0,154.0 L413.0,193.5" stroke-width="1.30"/>
<path d="M415.6,154.0 L415.6,192.0 L420.7,192.0" stroke-width="1.30"/>
<path d="M413.0,193.5 L420.7,193.5" stroke-width="1.30"/>
<path d="M454.6,193.8 L462.0,193.8" stroke-width="1.30"/>
<path d="M458.2,191.3 L462.0,191.3" stroke-width="1.30"/>
<path d="M488.6,198.0 L488.6,224.6" stroke-width="1.30"/>
<circle cx="488.6" cy="224.6" r="1.5" fill="#1c1c1c" stroke="none"/>
<rect x="485.8" y="203.7" width="5.6" height="5.6" stroke-width="2.10" fill="#fff" rx="0.0"/>
<path d="M488.0,204.7 L488.0,208.3" stroke-width="1.20"/>
<polygon points="481.1,204.3 485.6,206.5 482.6,208.0" fill="#1c1c1c" stroke-width="0.0"/>
<path d="M492.0,200.9 a2.8,2.8 0 1 1 0,5.2" stroke-width="1.0" fill="none" stroke-dasharray="2.2,1.3"/>
<text x="490.0" y="187.5" font-size="7.4" text-anchor="start" font-weight="bold" font-family="&quot;Liberation Serif&quot;, serif" stroke="none" fill="#1c1c1c">20</text>
<path d="M489.0,224.8 L489.0,272.3" stroke-width="1.30"/>
<circle cx="489.1" cy="272.3" r="1.5" fill="#1c1c1c" stroke="none"/>
<path d="M512.5,230.7 L512.5,162.6 L607.8,162.0 L607.8,231.0 L512.5,230.7" stroke-width="1.20"/>
<path d="M520.0,166.0 L597.5,165.5" stroke-width="1.30"/>
<path d="M516.0,197.6 L516.0,224.5 L603.2,224.7" stroke-width="1.30"/>
<path d="M516.0,197.6 L603.2,197.1 L603.2,293.7" stroke-width="1.30"/>
<path d="M541.4,165.7 L541.4,224.6" stroke-width="1.30"/>
<circle cx="541.4" cy="165.7" r="1.4" fill="#1c1c1c" stroke="none"/>
<circle cx="541.4" cy="224.6" r="1.5" fill="#1c1c1c" stroke="none"/>
<circle cx="541.4" cy="191.1" r="1.4" fill="#1c1c1c" stroke="none"/>
<path d="M541.4,165.7 L549.0,165.7 L549.0,171.6" stroke-width="1.30"/>
<path d="M549.0,177.6 L549.0,183.6 L541.4,183.6" stroke-width="1.30"/>
<rect x="546.1" y="171.5" width="5.8" height="6.2" stroke-width="2.20" fill="#fff" rx="0.0"/>
<path d="M548.4,172.6 L548.4,176.6" stroke-width="1.20"/>
<path d="M546.1,174.6 L543.5,174.6" stroke-width="1.10"/>
<path d="M551.9,174.9 L555.9,174.9 L555.9,168.0 L551.3,168.0" stroke-width="1.10" stroke-dasharray="2.4,1.3"/>
<polygon points="539.0,178.0 543.8,178.0 541.4,182.4" fill="#777" stroke-width="1.2"/>
<path d="M539.1,182.6 L543.7,182.6" stroke-width="1.00"/>
<circle cx="541.4" cy="177.4" r="1.2" fill="#1c1c1c" stroke="none"/>
<polygon points="549.4,192.4 551.8,194.8 549.4,197.2 547.0,194.8" fill="#fff" stroke-width="1.6"/>
<path d="M547.4,193.2 L541.4,191.1" stroke-width="1.30"/>
<circle cx="552.2" cy="197.0" r="1.3" fill="#1c1c1c" stroke="none"/>
<path d="M541.4,191.1 L537.2,191.1" stroke-width="1.30"/>
<path d="M541.4,193.8 L537.2,193.8" stroke-width="1.30"/>
<rect x="525.2" y="175.7" width="11.1" height="36.3" stroke-width="1.70" fill="#fff" rx="0.0"/>
<path d="M525.2,180.8 L536.3,180.8" stroke-width="1.40"/>
<path d="M525.2,186.0 L536.3,186.0" stroke-width="1.40"/>
<path d="M525.2,191.2 L536.3,191.2" stroke-width="1.40"/>
<path d="M525.2,196.4 L536.3,196.4" stroke-width="1.40"/>
<path d="M525.2,201.6 L536.3,201.6" stroke-width="1.40"/>
<path d="M525.2,206.8 L536.3,206.8" stroke-width="1.40"/>
<path d="M526.0,176.2 L535.5,180.4" stroke-width="1.60"/>
<path d="M535.5,176.2 L526.0,180.4" stroke-width="1.60"/>
<path d="M526.0,181.4 L530.8,185.5 L535.5,181.4" stroke-width="1.60"/>
<path d="M530.8,180.8 L530.8,186.0" stroke-width="1.30"/>
<path d="M526.6,188.6 L530.0,188.6" stroke-width="1.60"/>
<path d="M531.8,188.6 L535.0,188.6" stroke-width="1.60"/>
<path d="M530.9,186.0 L530.9,191.2" stroke-width="1.10"/>
<path d="M528.0,191.2 L528.0,196.4" stroke-width="1.30"/>
<path d="M533.6,191.2 L533.6,196.4" stroke-width="1.30"/>
<path d="M529.2,193.8 L532.4,193.8" stroke-width="1.30"/>
<path d="M526.6,199.0 L530.0,199.0" stroke-width="1.60"/>
<path d="M531.8,199.0 L535.0,199.0" stroke-width="1.60"/>
<path d="M530.9,196.4 L530.9,201.6" stroke-width="1.10"/>
<path d="M526.6,204.2 L530.4,204.2" stroke-width="1.50"/>
<path d="M532.8,201.6 L532.8,206.8" stroke-width="1.10"/>
<path d="M526.6,209.4 L530.4,209.4" stroke-width="1.50"/>
<path d="M532.8,206.8 L532.8,212.0" stroke-width="1.10"/>
<path d="M528.7,170.6 L532.9,170.6 L528.7,173.0 L532.9,173.0 L530.8,175.4" stroke-width="1.20"/>
<path d="M531.0,212.8 L531.0,217.4" stroke-width="1.20"/>
<path d="M533.8,212.8 L533.8,217.6" stroke-width="1.20"/>
<path d="M525.9,216.4 L536.4,219.2" stroke-width="1.20"/>
<circle cx="537.6" cy="219.6" r="1.5" stroke-width="1.20" fill="#fff"/>
<path d="M583.6,165.9 L583.6,224.8" stroke-width="1.30"/>
<circle cx="583.6" cy="165.9" r="1.4" fill="#1c1c1c" stroke="none"/>
<circle cx="583.6" cy="224.8" r="1.5" fill="#1c1c1c" stroke="none"/>
<circle cx="583.6" cy="191.3" r="1.4" fill="#1c1c1c" stroke="none"/>
<path d="M583.6,165.9 L591.2,165.9 L591.2,171.8" stroke-width="1.30"/>
<path d="M591.2,177.8 L591.2,183.8 L583.6,183.8" stroke-width="1.30"/>
<rect x="588.3" y="171.7" width="5.8" height="6.2" stroke-width="2.20" fill="#fff" rx="0.0"/>
<path d="M590.6,172.8 L590.6,176.8" stroke-width="1.20"/>
<path d="M588.3,174.8 L585.7,174.8" stroke-width="1.10"/>
<path d="M594.1,175.1 L598.1,175.1 L598.1,168.2 L593.5,168.2" stroke-width="1.10" stroke-dasharray="2.4,1.3"/>
<polygon points="581.2,178.2 586.0,178.2 583.6,182.6" fill="#777" stroke-width="1.2"/>
<path d="M581.3,182.8 L585.9,182.8" stroke-width="1.00"/>
<circle cx="583.6" cy="177.6" r="1.2" fill="#1c1c1c" stroke="none"/>
<polygon points="591.6,192.6 594.0,195.0 591.6,197.4 589.2,195.0" fill="#fff" stroke-width="1.6"/>
<path d="M589.6,193.4 L583.6,191.3" stroke-width="1.30"/>
<circle cx="594.4" cy="197.2" r="1.3" fill="#1c1c1c" stroke="none"/>
<path d="M583.6,191.3 L579.4,191.3" stroke-width="1.30"/>
<path d="M583.6,194.0 L579.4,194.0" stroke-width="1.30"/>
<rect x="567.5" y="175.8" width="11.1" height="36.3" stroke-width="1.70" fill="#fff" rx="0.0"/>
<path d="M567.5,181.0 L578.5,181.0" stroke-width="1.40"/>
<path d="M567.5,186.2 L578.5,186.2" stroke-width="1.40"/>
<path d="M567.5,191.4 L578.5,191.4" stroke-width="1.40"/>
<path d="M567.5,196.6 L578.5,196.6" stroke-width="1.40"/>
<path d="M567.5,201.8 L578.5,201.8" stroke-width="1.40"/>
<path d="M567.5,207.0 L578.5,207.0" stroke-width="1.40"/>
<path d="M568.2,176.4 L577.8,180.6" stroke-width="1.60"/>
<path d="M577.8,176.4 L568.2,180.6" stroke-width="1.60"/>
<path d="M568.2,181.6 L573.0,185.7 L577.8,181.6" stroke-width="1.60"/>
<path d="M573.0,181.0 L573.0,186.2" stroke-width="1.30"/>
<path d="M568.8,188.8 L572.2,188.8" stroke-width="1.60"/>
<path d="M574.0,188.8 L577.2,188.8" stroke-width="1.60"/>
<path d="M573.1,186.2 L573.1,191.4" stroke-width="1.10"/>
<path d="M570.2,191.4 L570.2,196.6" stroke-width="1.30"/>
<path d="M575.8,191.4 L575.8,196.6" stroke-width="1.30"/>
<path d="M571.4,194.0 L574.6,194.0" stroke-width="1.30"/>
<path d="M568.8,199.2 L572.2,199.2" stroke-width="1.60"/>
<path d="M574.0,199.2 L577.2,199.2" stroke-width="1.60"/>
<path d="M573.1,196.6 L573.1,201.8" stroke-width="1.10"/>
<path d="M568.8,204.4 L572.6,204.4" stroke-width="1.50"/>
<path d="M575.0,201.8 L575.0,207.0" stroke-width="1.10"/>
<path d="M568.8,209.6 L572.6,209.6" stroke-width="1.50"/>
<path d="M575.0,207.0 L575.0,212.2" stroke-width="1.10"/>
<path d="M570.9,170.8 L575.1,170.8 L570.9,173.2 L575.1,173.2 L573.0,175.6" stroke-width="1.20"/>
<path d="M573.2,213.0 L573.2,217.6" stroke-width="1.20"/>
<path d="M576.0,213.0 L576.0,217.8" stroke-width="1.20"/>
<path d="M568.1,216.6 L578.6,219.4" stroke-width="1.20"/>
<circle cx="579.8" cy="219.8" r="1.5" stroke-width="1.20" fill="#fff"/>
<path d="M516.3,154.5 L520.9,154.5" stroke-width="1.80"/>
<path d="M517.3,154.5 L517.3,192.4" stroke-width="1.30"/>
<path d="M519.9,154.5 L519.9,191.8 L524.4,191.8" stroke-width="1.30"/>
<path d="M517.3,192.4 L524.4,192.4" stroke-width="1.30"/>
<path d="M558.5,193.1 L567.0,193.0" stroke-width="1.30"/>
<path d="M563.0,190.4 L567.0,190.4" stroke-width="1.30"/>
<path d="M594.6,197.2 L594.6,224.7" stroke-width="1.30"/>
<circle cx="594.6" cy="224.7" r="1.5" fill="#1c1c1c" stroke="none"/>
<rect x="591.8" y="203.6" width="5.6" height="5.6" stroke-width="2.10" fill="#fff" rx="0.0"/>
<path d="M594.0,204.6 L594.0,208.2" stroke-width="1.20"/>
<polygon points="587.1,204.2 591.6,206.4 588.6,207.9" fill="#1c1c1c" stroke-width="0.0"/>
<path d="M598.0,200.8 a2.8,2.8 0 1 1 0,5.2" stroke-width="1.0" fill="none" stroke-dasharray="2.2,1.3"/>
<text x="594.5" y="184.5" font-size="7.4" text-anchor="start" font-weight="bold" font-family="&quot;Liberation Serif&quot;, serif" stroke="none" fill="#1c1c1c">21</text>
<path d="M594.8,224.2 L594.8,271.9" stroke-width="1.30"/>
<path d="M28.8,245.0 L504.2,242.3" stroke-width="1.30"/>
<path d="M52.5,261.9 L213.9,260.9" stroke-width="1.30"/>
<path d="M24.2,261.9 L47.1,261.8 L47.1,299.5" stroke-width="1.30"/>
<path d="M52.5,261.9 L52.5,299.5" stroke-width="1.30"/>
<path d="M173.0,329.6 L173.0,273.8 L594.8,271.9 L594.8,230.0" stroke-width="1.30"/>
<path d="M183.9,329.6 L183.9,284.2 L497.0,282.1" stroke-width="1.30"/>
<path d="M201.8,329.6 L201.8,295.1 L603.2,293.7" stroke-width="1.30"/>
<circle cx="509.0" cy="272.2" r="1.5" fill="#1c1c1c" stroke="none"/>
<circle cx="429.5" cy="261.2" r="4.4" stroke-width="1.40" fill="none"/>
<path d="M429.5,258.5 L429.5,264.0" stroke-width="1.00"/>
<path d="M429.5,265.6 L429.5,272.6" stroke-width="1.30"/>
<circle cx="429.5" cy="272.6" r="1.3" fill="#1c1c1c" stroke="none"/>
<text x="422.3" y="260.0" font-size="7.2" text-anchor="end" font-weight="bold" font-family="&quot;Liberation Serif&quot;, serif" stroke="none" fill="#1c1c1c">35</text>
<circle cx="33.9" cy="272.2" r="3.2" stroke-width="1.30" fill="none"/>
<path d="M32.0,270.3 L35.8,274.1" stroke-width="1.00"/>
<path d="M33.9,275.4 L33.9,284.3 L115.0,283.8 L115.0,329.5" stroke-width="1.30"/>
<path d="M32.5,279.0 L35.3,279.0" stroke-width="1.60"/>
<circle cx="22.9" cy="281.3" r="3.2" stroke-width="1.30" fill="none"/>
<path d="M21.0,279.4 L24.8,283.2" stroke-width="1.00"/>
<path d="M22.9,284.5 L22.9,294.4 L96.2,294.0 L96.2,329.6 L134.3,329.4 L134.3,312.6" stroke-width="1.30"/>
<path d="M21.6,288.0 L24.4,288.0" stroke-width="1.60"/>
<circle cx="47.1" cy="284.2" r="1.4" fill="#1c1c1c" stroke="none"/>
<circle cx="52.5" cy="294.3" r="1.4" fill="#1c1c1c" stroke="none"/>
<rect x="41.8" y="298.8" width="17.5" height="11.4" stroke-width="1.70" fill="none" rx="0.0"/>
<rect x="45.6" y="299.5" width="2.8" height="6.9" stroke-width="1.00" fill="#444" rx="0.0"/>
<rect x="50.6" y="299.5" width="2.8" height="6.9" stroke-width="1.00" fill="#444" rx="0.0"/>
<path d="M47.0,306.4 L47.0,308.3 L52.0,308.3 L52.0,306.4" stroke-width="1.00"/>
<text x="38.5" y="307.0" font-size="7.4" text-anchor="end" font-weight="bold" font-family="&quot;Liberation Serif&quot;, serif" stroke="none" fill="#1c1c1c">22</text>
<path d="M50.3,310.2 L50.3,392.7" stroke-width="1.30"/>
<polygon points="50.2,317.9 55.3,323.0 50.2,328.1 45.1,323.0" fill="#fff" stroke-width="1.6"/>
<path d="M48.1,323.0 L52.3,323.0" stroke-width="1.30" stroke-dasharray="1.4,0.8"/>
<text x="41.5" y="325.0" font-size="7.4" text-anchor="end" font-weight="bold" font-family="&quot;Liberation Serif&quot;, serif" stroke="none" fill="#1c1c1c">23</text>
<circle cx="49.8" cy="344.5" r="6.9" stroke-width="1.70" fill="#fff"/>
<polygon points="46.2,341.4 53.4,341.4 49.8,337.5" fill="#1c1c1c" stroke-width="0.0"/>
<path d="M56.5,342.7 L67.0,342.7" stroke-width="1.20"/>
<path d="M56.5,346.0 L67.0,346.0" stroke-width="1.20"/>
<path d="M66.3,353.6 Q57.5,344.5 64.3,336.2" stroke-width="1.3" fill="none"/>
<polygon points="65.6,333.6 62.2,337.2 65.6,338.0" fill="#1c1c1c" stroke-width="0.0"/>
<text x="40.0" y="348.0" font-size="7.4" text-anchor="end" font-weight="bold" font-family="&quot;Liberation Serif&quot;, serif" stroke="none" fill="#1c1c1c">24</text>
<polygon points="47.0,356.6 52.6,356.6 49.8,359.6" fill="#1c1c1c" stroke-width="0.0"/>
<polygon points="47.0,362.6 52.6,362.6 49.8,359.6" fill="#1c1c1c" stroke-width="0.0"/>
<text x="42.0" y="362.0" font-size="7.4" text-anchor="end" font-weight="bold" font-family="&quot;Liberation Serif&quot;, serif" stroke="none" fill="#1c1c1c">25</text>
<polygon points="50.4,367.6 55.1,372.3 50.4,377.0 45.7,372.3" fill="#fff" stroke-width="1.6"/>
<path d="M48.4,372.3 L52.4,372.3" stroke-width="1.30" stroke-dasharray="1.4,0.8"/>
<text x="43.0" y="374.9" font-size="7.4" text-anchor="end" font-weight="bold" font-family="&quot;Liberation Serif&quot;, serif" stroke="none" fill="#1c1c1c">26</text>
<rect x="92.5" y="303.8" width="6.3" height="6.8" stroke-width="2.00" fill="#fff" rx="0.0"/>
<rect x="92.5" y="303.8" width="2.6" height="6.8" stroke-width="0.50" fill="#1c1c1c" rx="0.0"/>
<path d="M88.7,307.8 L92.5,307.8" stroke-width="1.80"/>
<path d="M99.1,303.2 h2.6 v4.6 h-2.2" stroke-width="1.0" fill="none" stroke-dasharray="2.2,1.1"/>
<rect x="111.4" y="303.6" width="6.3" height="6.8" stroke-width="2.00" fill="#fff" rx="0.0"/>
<rect x="111.4" y="303.6" width="2.6" height="6.8" stroke-width="0.50" fill="#1c1c1c" rx="0.0"/>
<path d="M107.6,307.6 L111.4,307.6" stroke-width="1.80"/>
<path d="M118.0,303.0 h2.6 v4.6 h-2.2" stroke-width="1.0" fill="none" stroke-dasharray="2.2,1.1"/>
<circle cx="115.0" cy="329.5" r="1.4" fill="#1c1c1c" stroke="none"/>
<circle cx="125.7" cy="329.4" r="1.5" fill="#1c1c1c" stroke="none"/>
<circle cx="134.3" cy="309.3" r="3.2" stroke-width="1.30" fill="none"/>
<path d="M132.4,307.4 L136.2,311.2" stroke-width="1.00"/>
<path d="M132.9,314.5 L135.7,314.5" stroke-width="1.60"/>
<text x="134.0" y="304.0" font-size="7.4" text-anchor="middle" font-weight="bold" font-family="&quot;Liberation Serif&quot;, serif" stroke="none" fill="#1c1c1c">28</text>
<path d="M125.8,244.2 L125.8,392.3" stroke-width="1.30"/>
<circle cx="125.8" cy="244.2" r="1.5" fill="#1c1c1c" stroke="none"/>
<polygon points="125.3,362.0 130.3,367.0 125.3,372.0 120.3,367.0" fill="#fff" stroke-width="1.6"/>
<path d="M123.2,367.0 L127.4,367.0" stroke-width="1.30" stroke-dasharray="1.4,0.8"/>
<text x="118.0" y="369.8" font-size="7.4" text-anchor="end" font-weight="bold" font-family="&quot;Liberation Serif&quot;, serif" stroke="none" fill="#1c1c1c">27</text>
<circle cx="163.0" cy="309.4" r="3.2" stroke-width="1.30" fill="none"/>
<path d="M161.1,307.5 L164.9,311.3" stroke-width="1.00"/>
<path d="M163.0,312.6 L163.0,329.7 L201.8,329.5" stroke-width="1.30"/>
<path d="M161.6,315.0 L164.4,315.0" stroke-width="1.60"/>
<rect x="180.6" y="303.7" width="6.0" height="6.8" stroke-width="2.00" fill="#fff" rx="0.0"/>
<rect x="180.6" y="303.7" width="2.6" height="6.8" stroke-width="0.50" fill="#1c1c1c" rx="0.0"/>
<path d="M176.8,307.7 L180.6,307.7" stroke-width="1.80"/>
<path d="M186.9,303.1 h2.6 v4.6 h-2.2" stroke-width="1.0" fill="none" stroke-dasharray="2.2,1.1"/>
<rect x="198.8" y="303.6" width="6.2" height="6.8" stroke-width="2.00" fill="#fff" rx="0.0"/>
<rect x="198.8" y="303.6" width="2.6" height="6.8" stroke-width="0.50" fill="#1c1c1c" rx="0.0"/>
<path d="M195.0,307.6 L198.8,307.6" stroke-width="1.80"/>
<path d="M205.3,303.0 h2.6 v4.6 h-2.2" stroke-width="1.0" fill="none" stroke-dasharray="2.2,1.1"/>
<circle cx="172.9" cy="329.6" r="1.5" fill="#1c1c1c" stroke="none"/>
<circle cx="183.9" cy="329.5" r="1.4" fill="#1c1c1c" stroke="none"/>
<path d="M172.7,329.6 L172.7,392.0" stroke-width="1.30"/>
<polygon points="172.7,339.7 177.8,344.8 172.7,349.9 167.6,344.8" fill="#fff" stroke-width="1.6"/>
<path d="M170.6,344.8 L174.8,344.8" stroke-width="1.30" stroke-dasharray="1.4,0.8"/>
<text x="164.8" y="347.9" font-size="7.4" text-anchor="end" font-weight="bold" font-family="&quot;Liberation Serif&quot;, serif" stroke="none" fill="#1c1c1c">29</text>
<polygon points="172.7,360.9 177.8,366.0 172.7,371.1 167.6,366.0" fill="#fff" stroke-width="1.6"/>
<path d="M170.6,366.0 L174.8,366.0" stroke-width="1.30" stroke-dasharray="1.4,0.8"/>
<text x="164.8" y="369.1" font-size="7.4" text-anchor="end" font-weight="bold" font-family="&quot;Liberation Serif&quot;, serif" stroke="none" fill="#1c1c1c">30</text>
<circle cx="292.7" cy="283.4" r="1.5" fill="#1c1c1c" stroke="none"/>
<path d="M292.7,283.4 L292.7,322.0" stroke-width="1.30"/>
<polygon points="292.7,300.8 298.3,306.4 292.7,312.0 287.1,306.4" fill="#fff" stroke-width="1.6"/>
<path d="M290.3,306.4 L295.1,306.4" stroke-width="1.30" stroke-dasharray="1.4,0.8"/>
<text x="306.5" y="309.5" font-size="7.4" text-anchor="start" font-weight="bold" font-family="&quot;Liberation Serif&quot;, serif" stroke="none" fill="#1c1c1c">31</text>
<circle cx="328.2" cy="294.7" r="1.5" fill="#1c1c1c" stroke="none"/>
<path d="M328.2,294.7 L328.2,322.0" stroke-width="1.30"/>
<polygon points="328.2,300.0 333.7,305.5 328.2,311.0 322.7,305.5" fill="#fff" stroke-width="1.6"/>
<path d="M325.9,305.5 L330.5,305.5" stroke-width="1.30" stroke-dasharray="1.4,0.8"/>
<circle cx="292.7" cy="332.0" r="10.0" stroke-width="1.70" fill="#fff"/>
<polygon points="290.1,325.6 295.3,325.6 294.3,322.4 291.1,322.4" fill="#1c1c1c" stroke-width="0.0"/>
<path d="M281.9,342.3 L303.3,320.4" stroke-width="1.30"/>
<polygon points="305.1,318.7 300.5,320.6 303.3,323.4" fill="#1c1c1c" stroke-width="0.0"/>
<circle cx="328.3" cy="331.6" r="9.9" stroke-width="1.70" fill="#fff"/>
<polygon points="325.7,325.3 330.9,325.3 329.9,322.1 326.7,322.1" fill="#1c1c1c" stroke-width="0.0"/>
<path d="M317.6,341.8 L338.8,320.1" stroke-width="1.30"/>
<polygon points="340.6,318.4 336.0,320.3 338.8,323.1" fill="#1c1c1c" stroke-width="0.0"/>
<text x="306.5" y="325.0" font-size="7.4" text-anchor="start" font-weight="bold" font-family="&quot;Liberation Serif&quot;, serif" stroke="none" fill="#1c1c1c">32</text>
<path d="M303.3,330.5 L317.0,330.5" stroke-width="1.20"/>
<path d="M303.3,334.0 L317.0,334.0" stroke-width="1.20"/>
<path d="M338.4,328.8 L350.8,328.8" stroke-width="1.20"/>
<path d="M338.4,332.6 L350.8,332.6" stroke-width="1.20"/>
<path d="M347.4,340.4 Q338.5,331 346,321.4" stroke-width="1.3" fill="none"/>
<polygon points="347.3,319.2 343.7,323.0 347.0,323.8" fill="#1c1c1c" stroke-width="0.0"/>
<path d="M294.0,342.4 L294.0,346.8 L328.2,346.6 L328.2,342.3" stroke-width="1.30"/>
<circle cx="310.6" cy="346.7" r="1.4" fill="#1c1c1c" stroke="none"/>
<path d="M310.6,346.7 L310.6,391.2" stroke-width="1.30"/>
<polygon points="308.0,356.0 313.2,356.0 310.6,359.0" fill="#1c1c1c" stroke-width="0.0"/>
<polygon points="308.0,362.0 313.2,362.0 310.6,359.0" fill="#1c1c1c" stroke-width="0.0"/>
<text x="316.5" y="360.5" font-size="7.4" text-anchor="start" font-weight="bold" font-family="&quot;Liberation Serif&quot;, serif" stroke="none" fill="#1c1c1c">33</text>
<polygon points="310.6,372.9 315.6,377.9 310.6,382.9 305.6,377.9" fill="#fff" stroke-width="1.6"/>
<path d="M308.5,377.9 L312.7,377.9" stroke-width="1.30" stroke-dasharray="1.4,0.8"/>
<text x="317.5" y="380.5" font-size="7.4" text-anchor="start" font-weight="bold" font-family="&quot;Liberation Serif&quot;, serif" stroke="none" fill="#1c1c1c">34</text>
<path d="M19.4,374.7 L19.4,392.9 L510.2,390.1 L510.2,371.4" stroke-width="1.90"/>
<text x="242.0" y="415.6" font-size="8.6" text-anchor="start" font-weight="bold" font-family="&quot;Liberation Serif&quot;, &quot;Noto Serif CJK SC&quot;, serif" stroke="none" fill="#1c1c1c">图</text>
<text x="254.0" y="415.6" font-size="10.0" text-anchor="start" font-weight="bold" font-family="&quot;Liberation Serif&quot;, &quot;Noto Serif CJK SC&quot;, serif" stroke="none" fill="#1c1c1c" letter-spacing="0.15">4.14-19</text>
<text x="296.0" y="415.3" font-size="8.6" text-anchor="start" font-weight="bold" font-family="&quot;Liberation Serif&quot;, &quot;Noto Serif CJK SC&quot;, serif" stroke="none" fill="#1c1c1c" letter-spacing="1.00">钻机液压系统原理图</text>
</g>
</svg>
</body></html>
